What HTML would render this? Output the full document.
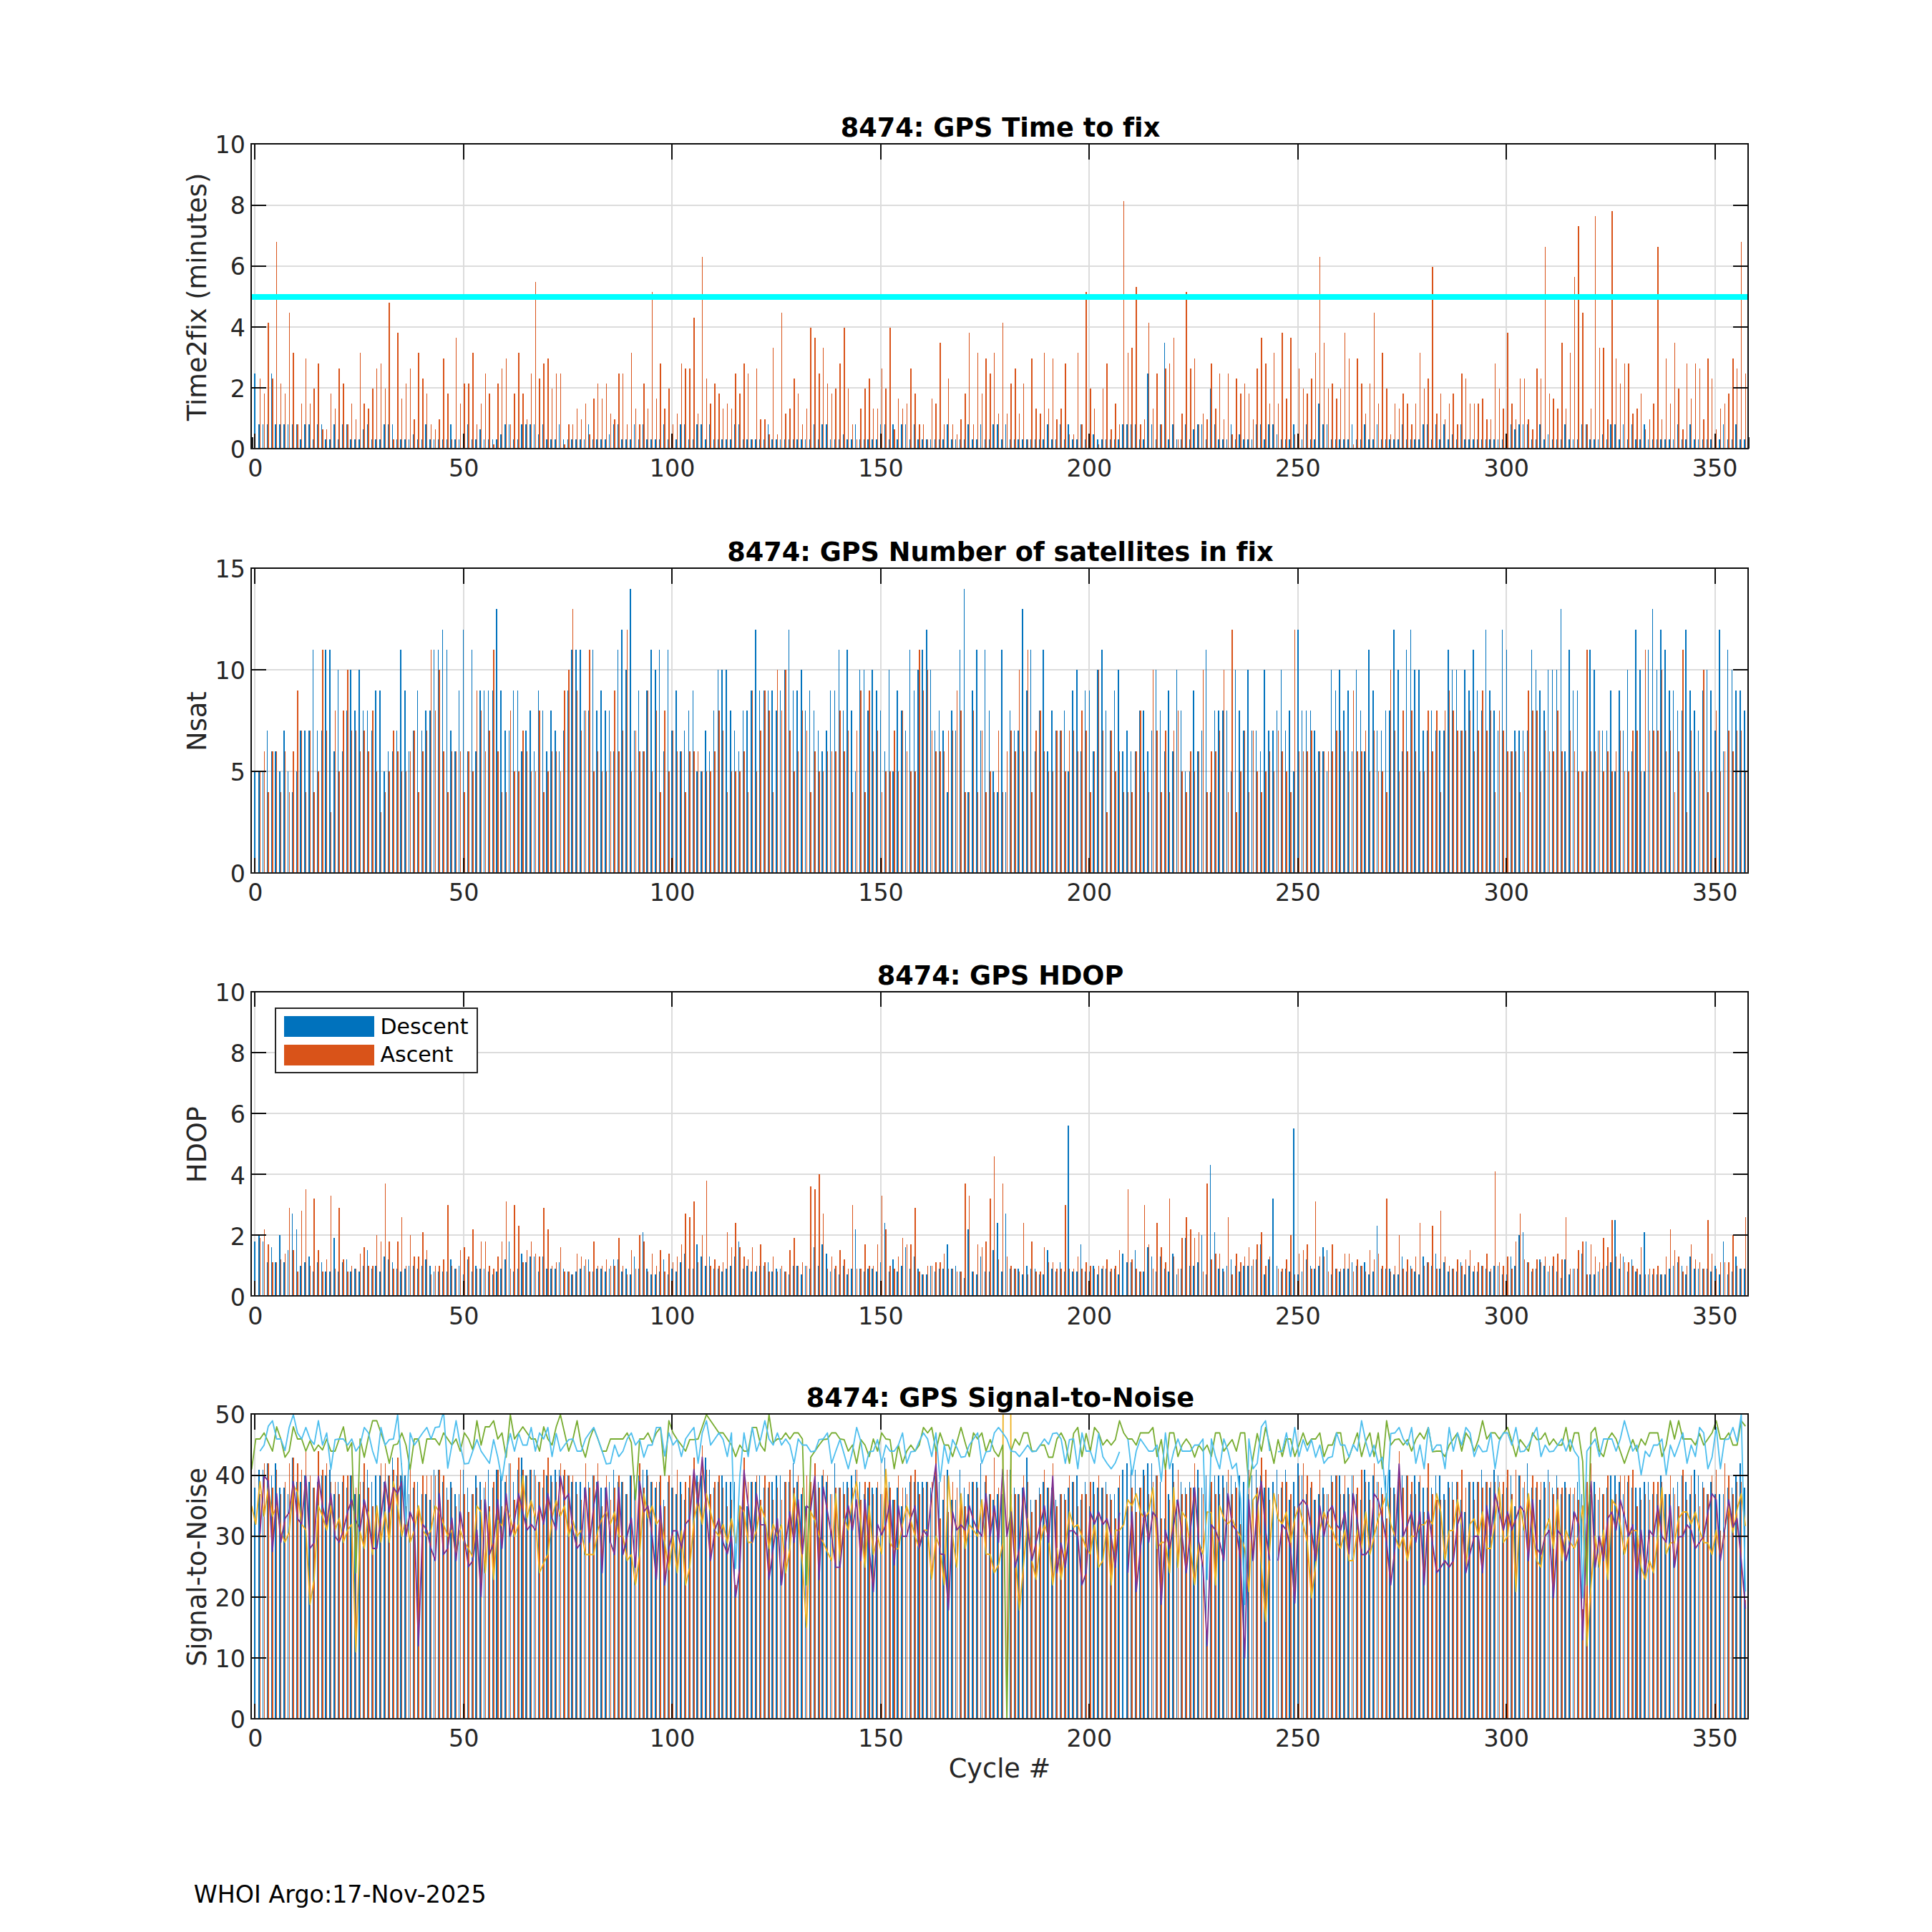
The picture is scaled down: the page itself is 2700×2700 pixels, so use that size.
<!DOCTYPE html><html><head><meta charset="utf-8"><title>8474 GPS</title><style>html,body{margin:0;padding:0;background:#fff}svg{display:block}text{font-variant-ligatures:none;font-feature-settings:"liga" 0,"clig" 0;font-family:"DejaVu Sans","Liberation Sans",sans-serif;fill:#262626}</style></head><body><svg xmlns="http://www.w3.org/2000/svg" width="2700" height="2700" viewBox="0 0 2700 2700"><rect width="2700" height="2700" fill="#fff"/><defs><clipPath id="c0"><rect x="351" y="201" width="2092" height="426"/></clipPath><clipPath id="c1"><rect x="351" y="794" width="2092" height="426"/></clipPath><clipPath id="c2"><rect x="351" y="1386" width="2092" height="425"/></clipPath><clipPath id="c3"><rect x="351" y="1976" width="2092" height="426"/></clipPath></defs><g><path shape-rendering="crispEdges" stroke="#dcdcdc" stroke-width="2" fill="none" d="M356 201V627M647.57 201V627M939.14 201V627M1230.71 201V627M1522.29 201V627M1813.86 201V627M2105.43 201V627M2397 201V627M351 542H2443M351 457H2443M351 372H2443M351 287H2443"/><g clip-path="url(#c0)"><path shape-rendering="crispEdges" fill="#0072BD" d="M355.27 627V521.75H356.73V627ZM361.1 627V592.58H362.56V627ZM366.93 627V592.58H368.39V627ZM372.77 627V592.58H374.22V627ZM378.6 627V521.75H380.05V627ZM384.43 627V592.58H385.89V627ZM390.26 627V592.58H391.72V627ZM396.09 627V592.58H397.55V627ZM401.92 627V592.58H403.38V627ZM407.75 627V592.58H409.21V627ZM413.59 627V592.58H415.04V627ZM419.42 627V613.83H420.87V627ZM425.25 627V592.58H426.71V627ZM431.08 627V592.58H432.54V627ZM436.91 627V613.83H438.37V627ZM442.74 627V592.58H444.2V627ZM448.57 627V592.58H450.03V627ZM454.41 627V613.83H455.86V627ZM460.24 627V613.83H461.69V627ZM466.07 627V592.58H467.53V627ZM471.9 627V613.83H473.36V627ZM477.73 627V592.58H479.19V627ZM483.56 627V592.58H485.02V627ZM489.39 627V613.83H490.85V627ZM495.23 627V613.83H496.68V627ZM501.06 627V613.83H502.51V627ZM506.89 627V599.67H508.35V627ZM512.72 627V592.58H514.18V627ZM518.55 627V613.83H520.01V627ZM524.38 627V613.83H525.84V627ZM530.21 627V613.83H531.67V627ZM536.05 627V592.58H537.5V627ZM541.88 627V592.58H543.33V627ZM547.71 627V592.58H549.17V627ZM553.54 627V613.83H555V627ZM559.37 627V613.83H560.83V627ZM565.2 627V613.83H566.66V627ZM571.03 627V613.83H572.49V627ZM576.87 627V606.75H578.32V627ZM582.7 627V613.83H584.15V627ZM588.53 627V613.83H589.99V627ZM594.36 627V592.58H595.82V627ZM600.19 627V613.83H601.65V627ZM606.02 627V613.83H607.48V627ZM611.85 627V613.83H613.31V627ZM617.69 627V613.83H619.14V627ZM623.52 627V613.83H624.97V627ZM629.35 627V592.58H630.81V627ZM635.18 627V613.83H636.64V627ZM641.01 627V613.83H642.47V627ZM646.84 627V613.83H648.3V627ZM652.67 627V592.58H654.13V627ZM658.51 627V613.83H659.96V627ZM664.34 627V613.83H665.79V627ZM670.17 627V599.67H671.63V627ZM676 627V613.83H677.46V627ZM681.83 627V613.83H683.29V627ZM687.66 627V613.83H689.12V627ZM693.49 627V613.83H694.95V627ZM699.33 627V606.75H700.78V627ZM705.16 627V592.58H706.61V627ZM710.99 627V592.58H712.45V627ZM716.82 627V613.83H718.28V627ZM722.65 627V613.83H724.11V627ZM728.48 627V592.58H729.94V627ZM734.31 627V592.58H735.77V627ZM740.15 627V592.58H741.6V627ZM745.98 627V592.58H747.43V627ZM751.81 627V606.75H753.27V627ZM757.64 627V592.58H759.1V627ZM763.47 627V613.83H764.93V627ZM769.3 627V613.83H770.76V627ZM775.13 627V613.83H776.59V627ZM780.97 627V592.58H782.42V627ZM786.8 627V613.83H788.25V627ZM792.63 627V613.83H794.09V627ZM798.46 627V613.83H799.92V627ZM804.29 627V613.83H805.75V627ZM810.12 627V613.83H811.58V627ZM815.95 627V613.83H817.41V627ZM821.79 627V592.58H823.24V627ZM827.62 627V613.83H829.07V627ZM833.45 627V613.83H834.91V627ZM839.28 627V613.83H840.74V627ZM845.11 627V613.83H846.57V627ZM850.94 627V606.75H852.4V627ZM856.77 627V592.58H858.23V627ZM862.61 627V592.58H864.06V627ZM868.44 627V613.83H869.89V627ZM874.27 627V613.83H875.73V627ZM880.1 627V613.83H881.56V627ZM885.93 627V592.58H887.39V627ZM891.76 627V613.83H893.22V627ZM897.59 627V592.58H899.05V627ZM903.43 627V613.83H904.88V627ZM909.26 627V613.83H910.71V627ZM915.09 627V613.83H916.55V627ZM920.92 627V613.83H922.38V627ZM926.75 627V592.58H928.21V627ZM932.58 627V613.83H934.04V627ZM938.41 627V613.83H939.87V627ZM944.25 627V613.83H945.7V627ZM950.08 627V592.58H951.53V627ZM955.91 627V592.58H957.37V627ZM961.74 627V613.83H963.2V627ZM967.57 627V613.83H969.03V627ZM973.4 627V592.58H974.86V627ZM979.23 627V592.58H980.69V627ZM985.07 627V613.83H986.52V627ZM990.9 627V592.58H992.35V627ZM996.73 627V613.83H998.19V627ZM1002.56 627V613.83H1004.02V627ZM1008.39 627V613.83H1009.85V627ZM1014.22 627V613.83H1015.68V627ZM1020.05 627V613.83H1021.51V627ZM1025.89 627V592.58H1027.34V627ZM1031.72 627V592.58H1033.17V627ZM1037.55 627V613.83H1039.01V627ZM1043.38 627V613.83H1044.84V627ZM1049.21 627V613.83H1050.67V627ZM1055.04 627V613.83H1056.5V627ZM1060.87 627V613.83H1062.33V627ZM1066.71 627V613.83H1068.16V627ZM1072.54 627V592.58H1073.99V627ZM1078.37 627V613.83H1079.83V627ZM1084.2 627V613.83H1085.66V627ZM1090.03 627V613.83H1091.49V627ZM1095.86 627V613.83H1097.32V627ZM1101.69 627V613.83H1103.15V627ZM1107.53 627V613.83H1108.98V627ZM1113.36 627V613.83H1114.81V627ZM1119.19 627V613.83H1120.65V627ZM1125.02 627V613.83H1126.48V627ZM1130.85 627V613.83H1132.31V627ZM1136.68 627V592.58H1138.14V627ZM1142.51 627V613.83H1143.97V627ZM1148.35 627V592.58H1149.8V627ZM1154.18 627V592.58H1155.63V627ZM1160.01 627V613.83H1161.47V627ZM1165.84 627V613.83H1167.3V627ZM1171.67 627V613.83H1173.13V627ZM1177.5 627V606.75H1178.96V627ZM1183.33 627V613.83H1184.79V627ZM1189.17 627V613.83H1190.62V627ZM1195 627V592.58H1196.45V627ZM1200.83 627V613.83H1202.29V627ZM1206.66 627V613.83H1208.12V627ZM1212.49 627V613.83H1213.95V627ZM1218.32 627V613.83H1219.78V627ZM1224.15 627V613.83H1225.61V627ZM1229.99 627V592.58H1231.44V627ZM1235.82 627V592.58H1237.27V627ZM1241.65 627V613.83H1243.11V627ZM1247.48 627V592.58H1248.94V627ZM1253.31 627V613.83H1254.77V627ZM1259.14 627V592.58H1260.6V627ZM1264.97 627V592.58H1266.43V627ZM1270.81 627V613.83H1272.26V627ZM1276.64 627V592.58H1278.09V627ZM1282.47 627V613.83H1283.93V627ZM1288.3 627V613.83H1289.76V627ZM1294.13 627V613.83H1295.59V627ZM1299.96 627V613.83H1301.42V627ZM1305.79 627V613.83H1307.25V627ZM1311.63 627V613.83H1313.08V627ZM1317.46 627V613.83H1318.91V627ZM1323.29 627V592.58H1324.75V627ZM1329.12 627V613.83H1330.58V627ZM1334.95 627V613.83H1336.41V627ZM1340.78 627V613.83H1342.24V627ZM1346.61 627V613.83H1348.07V627ZM1352.45 627V592.58H1353.9V627ZM1358.28 627V613.83H1359.73V627ZM1364.11 627V613.83H1365.57V627ZM1369.94 627V592.58H1371.4V627ZM1375.77 627V613.83H1377.23V627ZM1381.6 627V613.83H1383.06V627ZM1387.43 627V592.58H1388.89V627ZM1393.27 627V592.58H1394.72V627ZM1399.1 627V613.83H1400.55V627ZM1404.93 627V592.58H1406.39V627ZM1410.76 627V613.83H1412.22V627ZM1416.59 627V613.83H1418.05V627ZM1422.42 627V613.83H1423.88V627ZM1428.25 627V613.83H1429.71V627ZM1434.09 627V613.83H1435.54V627ZM1439.92 627V613.83H1441.37V627ZM1445.75 627V613.83H1447.21V627ZM1451.58 627V613.83H1453.04V627ZM1457.41 627V613.83H1458.87V627ZM1463.24 627V592.58H1464.7V627ZM1469.07 627V613.83H1470.53V627ZM1474.91 627V613.83H1476.36V627ZM1480.74 627V592.58H1482.19V627ZM1486.57 627V613.83H1488.03V627ZM1492.4 627V592.58H1493.86V627ZM1498.23 627V613.83H1499.69V627ZM1504.06 627V613.83H1505.52V627ZM1509.89 627V592.58H1511.35V627ZM1515.73 627V613.83H1517.18V627ZM1521.56 627V613.83H1523.01V627ZM1527.39 627V606.75H1528.85V627ZM1533.22 627V613.83H1534.68V627ZM1539.05 627V613.83H1540.51V627ZM1544.88 627V613.83H1546.34V627ZM1550.71 627V613.83H1552.17V627ZM1556.55 627V613.83H1558V627ZM1562.38 627V613.83H1563.83V627ZM1568.21 627V592.58H1569.67V627ZM1574.04 627V592.58H1575.5V627ZM1579.87 627V592.58H1581.33V627ZM1585.7 627V592.58H1587.16V627ZM1591.53 627V613.83H1592.99V627ZM1597.37 627V613.83H1598.82V627ZM1603.2 627V521.75H1604.65V627ZM1609.03 627V592.58H1610.49V627ZM1614.86 627V613.83H1616.32V627ZM1620.69 627V592.58H1622.15V627ZM1626.52 627V479.25H1627.98V627ZM1632.35 627V613.83H1633.81V627ZM1638.19 627V592.58H1639.64V627ZM1644.02 627V613.83H1645.47V627ZM1649.85 627V613.83H1651.31V627ZM1655.68 627V592.58H1657.14V627ZM1661.51 627V613.83H1662.97V627ZM1667.34 627V599.67H1668.8V627ZM1673.17 627V592.58H1674.63V627ZM1679.01 627V592.58H1680.46V627ZM1684.84 627V613.83H1686.29V627ZM1690.67 627V543H1692.13V627ZM1696.5 627V592.58H1697.96V627ZM1702.33 627V613.83H1703.79V627ZM1708.16 627V613.83H1709.62V627ZM1713.99 627V613.83H1715.45V627ZM1719.83 627V592.58H1721.28V627ZM1725.66 627V613.83H1727.11V627ZM1731.49 627V606.75H1732.95V627ZM1737.32 627V613.83H1738.78V627ZM1743.15 627V613.83H1744.61V627ZM1748.98 627V613.83H1750.44V627ZM1754.81 627V592.58H1756.27V627ZM1760.65 627V592.58H1762.1V627ZM1766.48 627V613.83H1767.93V627ZM1772.31 627V592.58H1773.77V627ZM1778.14 627V592.58H1779.6V627ZM1783.97 627V606.75H1785.43V627ZM1789.8 627V613.83H1791.26V627ZM1795.63 627V613.83H1797.09V627ZM1801.47 627V613.83H1802.92V627ZM1807.3 627V592.58H1808.75V627ZM1813.13 627V613.83H1814.59V627ZM1818.96 627V613.83H1820.42V627ZM1824.79 627V592.58H1826.25V627ZM1830.62 627V613.83H1832.08V627ZM1836.45 627V613.83H1837.91V627ZM1842.29 627V564.25H1843.74V627ZM1848.12 627V592.58H1849.57V627ZM1853.95 627V592.58H1855.41V627ZM1859.78 627V613.83H1861.24V627ZM1865.61 627V613.83H1867.07V627ZM1871.44 627V613.83H1872.9V627ZM1877.27 627V613.83H1878.73V627ZM1883.11 627V613.83H1884.56V627ZM1888.94 627V592.58H1890.39V627ZM1894.77 627V613.83H1896.23V627ZM1900.6 627V613.83H1902.06V627ZM1906.43 627V592.58H1907.89V627ZM1912.26 627V613.83H1913.72V627ZM1918.09 627V613.83H1919.55V627ZM1923.93 627V592.58H1925.38V627ZM1929.76 627V613.83H1931.21V627ZM1935.59 627V613.83H1937.05V627ZM1941.42 627V613.83H1942.88V627ZM1947.25 627V613.83H1948.71V627ZM1953.08 627V613.83H1954.54V627ZM1958.91 627V592.58H1960.37V627ZM1964.75 627V613.83H1966.2V627ZM1970.58 627V613.83H1972.03V627ZM1976.41 627V613.83H1977.87V627ZM1982.24 627V613.83H1983.7V627ZM1988.07 627V592.58H1989.53V627ZM1993.9 627V592.58H1995.36V627ZM1999.73 627V613.83H2001.19V627ZM2005.57 627V592.58H2007.02V627ZM2011.4 627V613.83H2012.85V627ZM2017.23 627V592.58H2018.69V627ZM2023.06 627V613.83H2024.52V627ZM2028.89 627V606.75H2030.35V627ZM2034.72 627V613.83H2036.18V627ZM2040.55 627V592.58H2042.01V627ZM2046.39 627V613.83H2047.84V627ZM2052.22 627V613.83H2053.67V627ZM2058.05 627V613.83H2059.51V627ZM2063.88 627V613.83H2065.34V627ZM2069.71 627V613.83H2071.17V627ZM2075.54 627V613.83H2077V627ZM2081.37 627V613.83H2082.83V627ZM2087.21 627V613.83H2088.66V627ZM2093.04 627V613.83H2094.49V627ZM2098.87 627V613.83H2100.33V627ZM2104.7 627V613.83H2106.16V627ZM2110.53 627V592.58H2111.99V627ZM2116.36 627V599.67H2117.82V627ZM2122.19 627V592.58H2123.65V627ZM2128.03 627V592.58H2129.48V627ZM2133.86 627V592.58H2135.31V627ZM2139.69 627V613.83H2141.15V627ZM2145.52 627V613.83H2146.98V627ZM2151.35 627V592.58H2152.81V627ZM2157.18 627V613.83H2158.64V627ZM2163.01 627V606.75H2164.47V627ZM2168.85 627V613.83H2170.3V627ZM2174.68 627V613.83H2176.13V627ZM2180.51 627V613.83H2181.97V627ZM2186.34 627V592.58H2187.8V627ZM2192.17 627V613.83H2193.63V627ZM2198 627V613.83H2199.46V627ZM2203.83 627V613.83H2205.29V627ZM2209.67 627V592.58H2211.12V627ZM2215.5 627V592.58H2216.95V627ZM2221.33 627V613.83H2222.79V627ZM2227.16 627V613.83H2228.62V627ZM2232.99 627V613.83H2234.45V627ZM2238.82 627V606.75H2240.28V627ZM2244.65 627V613.83H2246.11V627ZM2250.49 627V592.58H2251.94V627ZM2256.32 627V592.58H2257.77V627ZM2262.15 627V613.83H2263.61V627ZM2267.98 627V592.58H2269.44V627ZM2273.81 627V613.83H2275.27V627ZM2279.64 627V592.58H2281.1V627ZM2285.47 627V613.83H2286.93V627ZM2291.31 627V613.83H2292.76V627ZM2297.14 627V592.58H2298.59V627ZM2302.97 627V613.83H2304.43V627ZM2308.8 627V613.83H2310.26V627ZM2314.63 627V613.83H2316.09V627ZM2320.46 627V613.83H2321.92V627ZM2326.29 627V613.83H2327.75V627ZM2332.13 627V613.83H2333.58V627ZM2337.96 627V613.83H2339.41V627ZM2343.79 627V592.58H2345.25V627ZM2349.62 627V613.83H2351.08V627ZM2355.45 627V613.83H2356.91V627ZM2361.28 627V592.58H2362.74V627ZM2367.11 627V613.83H2368.57V627ZM2372.95 627V613.83H2374.4V627ZM2378.78 627V613.83H2380.23V627ZM2384.61 627V613.83H2386.07V627ZM2390.44 627V613.83H2391.9V627ZM2396.27 627V613.83H2397.73V627ZM2402.1 627V613.83H2403.56V627ZM2407.93 627V592.58H2409.39V627ZM2413.77 627V613.83H2415.22V627ZM2419.6 627V613.83H2421.05V627ZM2425.43 627V592.58H2426.89V627ZM2431.26 627V613.83H2432.72V627ZM2437.09 627V613.83H2438.55V627Z"/><path shape-rendering="crispEdges" fill="#D95319" d="M362.68 627V528.83H364.13V627ZM368.51 627V550.08H369.97V627ZM374.34 627V450.92H375.8V627ZM380.17 627V528.83H381.63V627ZM386 627V337.58H387.46V627ZM391.83 627V535.92H393.29V627ZM397.67 627V550.08H399.12V627ZM403.5 627V436.75H404.95V627ZM409.33 627V493.42H410.79V627ZM415.16 627V592.58H416.62V627ZM420.99 627V564.25H422.45V627ZM426.82 627V500.5H428.28V627ZM432.65 627V564.25H434.11V627ZM438.49 627V543H439.94V627ZM444.32 627V507.58H445.77V627ZM450.15 627V599.67H451.61V627ZM455.98 627V599.67H457.44V627ZM461.81 627V550.08H463.27V627ZM467.64 627V571.33H469.1V627ZM473.47 627V514.67H474.93V627ZM479.31 627V535.92H480.76V627ZM485.14 627V592.58H486.59V627ZM490.97 627V564.25H492.43V627ZM496.8 627V585.5H498.26V627ZM502.63 627V493.42H504.09V627ZM508.46 627V564.25H509.92V627ZM514.29 627V571.33H515.75V627ZM520.13 627V543H521.58V627ZM525.96 627V514.67H527.41V627ZM531.79 627V507.58H533.25V627ZM537.62 627V543H539.08V627ZM543.45 627V422.58H544.91V627ZM549.28 627V613.83H550.74V627ZM555.11 627V465.08H556.57V627ZM560.95 627V557.17H562.4V627ZM566.78 627V535.92H568.23V627ZM572.61 627V514.67H574.07V627ZM578.44 627V585.5H579.9V627ZM584.27 627V493.42H585.73V627ZM590.1 627V528.83H591.56V627ZM595.93 627V550.08H597.39V627ZM601.77 627V592.58H603.22V627ZM607.6 627V599.67H609.05V627ZM613.43 627V585.5H614.89V627ZM619.26 627V500.5H620.72V627ZM625.09 627V550.08H626.55V627ZM630.92 627V613.83H632.38V627ZM636.75 627V472.17H638.21V627ZM642.59 627V564.25H644.04V627ZM648.42 627V535.92H649.87V627ZM654.25 627V535.92H655.71V627ZM660.08 627V493.42H661.54V627ZM665.91 627V592.58H667.37V627ZM671.74 627V564.25H673.2V627ZM677.57 627V521.75H679.03V627ZM683.41 627V550.08H684.86V627ZM689.24 627V620.92H690.69V627ZM695.07 627V535.92H696.53V627ZM700.9 627V514.67H702.36V627ZM706.73 627V500.5H708.19V627ZM712.56 627V592.58H714.02V627ZM718.39 627V550.08H719.85V627ZM724.23 627V493.42H725.68V627ZM730.06 627V550.08H731.51V627ZM735.89 627V585.5H737.35V627ZM741.72 627V521.75H743.18V627ZM747.55 627V394.25H749.01V627ZM753.38 627V528.83H754.84V627ZM759.21 627V507.58H760.67V627ZM765.05 627V500.5H766.5V627ZM770.88 627V543H772.33V627ZM776.71 627V521.75H778.17V627ZM782.54 627V521.75H784V627ZM788.37 627V620.92H789.83V627ZM794.2 627V592.58H795.66V627ZM800.03 627V592.58H801.49V627ZM805.87 627V571.33H807.32V627ZM811.7 627V585.5H813.15V627ZM817.53 627V564.25H818.99V627ZM823.36 627V606.75H824.82V627ZM829.19 627V557.17H830.65V627ZM835.02 627V535.92H836.48V627ZM840.85 627V557.17H842.31V627ZM846.69 627V535.92H848.14V627ZM852.52 627V578.42H853.97V627ZM858.35 627V585.5H859.81V627ZM864.18 627V521.75H865.64V627ZM870.01 627V521.75H871.47V627ZM875.84 627V592.58H877.3V627ZM881.67 627V493.42H883.13V627ZM887.51 627V571.33H888.96V627ZM893.34 627V592.58H894.79V627ZM899.17 627V535.92H900.63V627ZM905 627V571.33H906.46V627ZM910.83 627V408.42H912.29V627ZM916.66 627V557.17H918.12V627ZM922.49 627V507.58H923.95V627ZM928.33 627V571.33H929.78V627ZM934.16 627V543H935.61V627ZM939.99 627V592.58H941.45V627ZM945.82 627V578.42H947.28V627ZM951.65 627V507.58H953.11V627ZM957.48 627V514.67H958.94V627ZM963.31 627V514.67H964.77V627ZM969.15 627V443.83H970.6V627ZM974.98 627V578.42H976.43V627ZM980.81 627V358.83H982.27V627ZM986.64 627V528.83H988.1V627ZM992.47 627V564.25H993.93V627ZM998.3 627V535.92H999.76V627ZM1004.13 627V550.08H1005.59V627ZM1009.97 627V571.33H1011.42V627ZM1015.8 627V564.25H1017.25V627ZM1021.63 627V571.33H1023.09V627ZM1027.46 627V521.75H1028.92V627ZM1033.29 627V550.08H1034.75V627ZM1039.12 627V507.58H1040.58V627ZM1044.95 627V521.75H1046.41V627ZM1050.79 627V613.83H1052.24V627ZM1056.62 627V514.67H1058.07V627ZM1062.45 627V585.5H1063.91V627ZM1068.28 627V585.5H1069.74V627ZM1074.11 627V606.75H1075.57V627ZM1079.94 627V486.33H1081.4V627ZM1085.77 627V606.75H1087.23V627ZM1091.61 627V436.75H1093.06V627ZM1097.44 627V578.42H1098.89V627ZM1103.27 627V571.33H1104.73V627ZM1109.1 627V528.83H1110.56V627ZM1114.93 627V550.08H1116.39V627ZM1120.76 627V592.58H1122.22V627ZM1126.59 627V571.33H1128.05V627ZM1132.43 627V458H1133.88V627ZM1138.26 627V472.17H1139.71V627ZM1144.09 627V521.75H1145.55V627ZM1149.92 627V486.33H1151.38V627ZM1155.75 627V535.92H1157.21V627ZM1161.58 627V550.08H1163.04V627ZM1167.41 627V543H1168.87V627ZM1173.25 627V507.58H1174.7V627ZM1179.08 627V458H1180.53V627ZM1184.91 627V543H1186.37V627ZM1190.74 627V592.58H1192.2V627ZM1196.57 627V613.83H1198.03V627ZM1202.4 627V571.33H1203.86V627ZM1208.23 627V543H1209.69V627ZM1214.07 627V528.83H1215.52V627ZM1219.9 627V571.33H1221.35V627ZM1225.73 627V571.33H1227.19V627ZM1231.56 627V514.67H1233.02V627ZM1237.39 627V543H1238.85V627ZM1243.22 627V458H1244.68V627ZM1249.05 627V599.67H1250.51V627ZM1254.89 627V557.17H1256.34V627ZM1260.72 627V571.33H1262.17V627ZM1266.55 627V564.25H1268.01V627ZM1272.38 627V514.67H1273.84V627ZM1278.21 627V550.08H1279.67V627ZM1284.04 627V592.58H1285.5V627ZM1289.87 627V592.58H1291.33V627ZM1295.71 627V613.83H1297.16V627ZM1301.54 627V557.17H1302.99V627ZM1307.37 627V564.25H1308.83V627ZM1313.2 627V479.25H1314.66V627ZM1319.03 627V592.58H1320.49V627ZM1324.86 627V528.83H1326.32V627ZM1330.69 627V592.58H1332.15V627ZM1336.53 627V606.75H1337.98V627ZM1342.36 627V585.5H1343.81V627ZM1348.19 627V550.08H1349.65V627ZM1354.02 627V465.08H1355.48V627ZM1359.85 627V592.58H1361.31V627ZM1365.68 627V493.42H1367.14V627ZM1371.51 627V550.08H1372.97V627ZM1377.35 627V500.5H1378.8V627ZM1383.18 627V521.75H1384.63V627ZM1389.01 627V493.42H1390.47V627ZM1394.84 627V578.42H1396.3V627ZM1400.67 627V450.92H1402.13V627ZM1406.5 627V578.42H1407.96V627ZM1412.33 627V535.92H1413.79V627ZM1418.17 627V514.67H1419.62V627ZM1424 627V578.42H1425.45V627ZM1429.83 627V535.92H1431.29V627ZM1435.66 627V613.83H1437.12V627ZM1441.49 627V500.5H1442.95V627ZM1447.32 627V571.33H1448.78V627ZM1453.15 627V578.42H1454.61V627ZM1458.99 627V493.42H1460.44V627ZM1464.82 627V571.33H1466.27V627ZM1470.65 627V500.5H1472.11V627ZM1476.48 627V585.5H1477.94V627ZM1482.31 627V571.33H1483.77V627ZM1488.14 627V507.58H1489.6V627ZM1493.97 627V606.75H1495.43V627ZM1499.81 627V606.75H1501.26V627ZM1505.64 627V493.42H1507.09V627ZM1511.47 627V592.58H1512.93V627ZM1517.3 627V408.42H1518.76V627ZM1523.13 627V543H1524.59V627ZM1528.96 627V571.33H1530.42V627ZM1534.79 627V620.92H1536.25V627ZM1540.63 627V543H1542.08V627ZM1546.46 627V507.58H1547.91V627ZM1552.29 627V599.67H1553.75V627ZM1558.12 627V564.25H1559.58V627ZM1563.95 627V592.58H1565.41V627ZM1569.78 627V280.92H1571.24V627ZM1575.61 627V493.42H1577.07V627ZM1581.45 627V486.33H1582.9V627ZM1587.28 627V401.33H1588.73V627ZM1593.11 627V592.58H1594.57V627ZM1598.94 627V585.5H1600.4V627ZM1604.77 627V450.92H1606.23V627ZM1610.6 627V571.33H1612.06V627ZM1616.43 627V521.75H1617.89V627ZM1622.27 627V592.58H1623.72V627ZM1628.1 627V514.67H1629.55V627ZM1633.93 627V507.58H1635.39V627ZM1639.76 627V472.17H1641.22V627ZM1645.59 627V613.83H1647.05V627ZM1651.42 627V578.42H1652.88V627ZM1657.25 627V408.42H1658.71V627ZM1663.09 627V514.67H1664.54V627ZM1668.92 627V500.5H1670.37V627ZM1674.75 627V592.58H1676.21V627ZM1680.58 627V578.42H1682.04V627ZM1686.41 627V585.5H1687.87V627ZM1692.24 627V507.58H1693.7V627ZM1698.07 627V571.33H1699.53V627ZM1703.91 627V521.75H1705.36V627ZM1709.74 627V585.5H1711.19V627ZM1715.57 627V521.75H1717.03V627ZM1721.4 627V606.75H1722.86V627ZM1727.23 627V528.83H1728.69V627ZM1733.06 627V550.08H1734.52V627ZM1738.89 627V535.92H1740.35V627ZM1744.73 627V550.08H1746.18V627ZM1750.56 627V585.5H1752.01V627ZM1756.39 627V514.67H1757.85V627ZM1762.22 627V472.17H1763.68V627ZM1768.05 627V507.58H1769.51V627ZM1773.88 627V564.25H1775.34V627ZM1779.71 627V493.42H1781.17V627ZM1785.55 627V564.25H1787V627ZM1791.38 627V465.08H1792.83V627ZM1797.21 627V557.17H1798.67V627ZM1803.04 627V472.17H1804.5V627ZM1808.87 627V606.75H1810.33V627ZM1814.7 627V514.67H1816.16V627ZM1820.53 627V543H1821.99V627ZM1826.37 627V550.08H1827.82V627ZM1832.2 627V528.83H1833.65V627ZM1838.03 627V493.42H1839.49V627ZM1843.86 627V358.83H1845.32V627ZM1849.69 627V479.25H1851.15V627ZM1855.52 627V543H1856.98V627ZM1861.35 627V535.92H1862.81V627ZM1867.19 627V557.17H1868.64V627ZM1873.02 627V543H1874.47V627ZM1878.85 627V465.08H1880.31V627ZM1884.68 627V500.5H1886.14V627ZM1890.51 627V620.92H1891.97V627ZM1896.34 627V500.5H1897.8V627ZM1902.17 627V535.92H1903.63V627ZM1908.01 627V578.42H1909.46V627ZM1913.84 627V535.92H1915.29V627ZM1919.67 627V436.75H1921.13V627ZM1925.5 627V564.25H1926.96V627ZM1931.33 627V493.42H1932.79V627ZM1937.16 627V543H1938.62V627ZM1942.99 627V606.75H1944.45V627ZM1948.83 627V564.25H1950.28V627ZM1954.66 627V571.33H1956.11V627ZM1960.49 627V550.08H1961.95V627ZM1966.32 627V564.25H1967.78V627ZM1972.15 627V592.58H1973.61V627ZM1977.98 627V564.25H1979.44V627ZM1983.81 627V493.42H1985.27V627ZM1989.65 627V543H1991.1V627ZM1995.48 627V528.83H1996.93V627ZM2001.31 627V373H2002.77V627ZM2007.14 627V578.42H2008.6V627ZM2012.97 627V550.08H2014.43V627ZM2018.8 627V585.5H2020.26V627ZM2024.63 627V564.25H2026.09V627ZM2030.47 627V550.08H2031.92V627ZM2036.3 627V592.58H2037.75V627ZM2042.13 627V521.75H2043.59V627ZM2047.96 627V528.83H2049.42V627ZM2053.79 627V564.25H2055.25V627ZM2059.62 627V564.25H2061.08V627ZM2065.45 627V564.25H2066.91V627ZM2071.29 627V557.17H2072.74V627ZM2077.12 627V585.5H2078.57V627ZM2082.95 627V585.5H2084.41V627ZM2088.78 627V507.58H2090.24V627ZM2094.61 627V543H2096.07V627ZM2100.44 627V571.33H2101.9V627ZM2106.27 627V465.08H2107.73V627ZM2112.11 627V564.25H2113.56V627ZM2117.94 627V585.5H2119.39V627ZM2123.77 627V528.83H2125.23V627ZM2129.6 627V528.83H2131.06V627ZM2135.43 627V585.5H2136.89V627ZM2141.26 627V599.67H2142.72V627ZM2147.09 627V514.67H2148.55V627ZM2152.93 627V528.83H2154.38V627ZM2158.76 627V344.67H2160.21V627ZM2164.59 627V550.08H2166.05V627ZM2170.42 627V557.17H2171.88V627ZM2176.25 627V571.33H2177.71V627ZM2182.08 627V479.25H2183.54V627ZM2187.91 627V571.33H2189.37V627ZM2193.75 627V493.42H2195.2V627ZM2199.58 627V387.17H2201.03V627ZM2205.41 627V316.33H2206.87V627ZM2211.24 627V436.75H2212.7V627ZM2217.07 627V592.58H2218.53V627ZM2222.9 627V571.33H2224.36V627ZM2228.73 627V302.17H2230.19V627ZM2234.57 627V486.33H2236.02V627ZM2240.4 627V486.33H2241.85V627ZM2246.23 627V585.5H2247.69V627ZM2252.06 627V295.08H2253.52V627ZM2257.89 627V500.5H2259.35V627ZM2263.72 627V535.92H2265.18V627ZM2269.55 627V507.58H2271.01V627ZM2275.39 627V507.58H2276.84V627ZM2281.22 627V578.42H2282.67V627ZM2287.05 627V571.33H2288.51V627ZM2292.88 627V550.08H2294.34V627ZM2298.71 627V599.67H2300.17V627ZM2304.54 627V585.5H2306V627ZM2310.37 627V564.25H2311.83V627ZM2316.21 627V344.67H2317.66V627ZM2322.04 627V585.5H2323.49V627ZM2327.87 627V500.5H2329.33V627ZM2333.7 627V564.25H2335.16V627ZM2339.53 627V479.25H2340.99V627ZM2345.36 627V543H2346.82V627ZM2351.19 627V599.67H2352.65V627ZM2357.03 627V507.58H2358.48V627ZM2362.86 627V557.17H2364.31V627ZM2368.69 627V507.58H2370.15V627ZM2374.52 627V514.67H2375.98V627ZM2380.35 627V585.5H2381.81V627ZM2386.18 627V500.5H2387.64V627ZM2392.01 627V528.83H2393.47V627ZM2397.85 627V599.67H2399.3V627ZM2403.68 627V571.33H2405.13V627ZM2409.51 627V564.25H2410.97V627ZM2415.34 627V550.08H2416.8V627ZM2421.17 627V500.5H2422.63V627ZM2427 627V514.67H2428.46V627ZM2432.83 627V337.58H2434.29V627ZM2438.67 627V521.75H2440.12V627Z"/></g><rect x="352" y="411" width="2090" height="8" fill="#00FFFF"/><path shape-rendering="crispEdges" stroke="#0d0d0d" stroke-width="2" fill="none" d="M356 627v-21M356 201V223M647.57 627v-21M647.57 201V223M939.14 627v-21M939.14 201V223M1230.71 627v-21M1230.71 201V223M1522.29 627v-21M1522.29 201V223M1813.86 627v-21M1813.86 201V223M2105.43 627v-21M2105.43 201V223M2397 627v-21M2397 201V223M351 542h21M2443 542h-21M351 457h21M2443 457h-21M351 372h21M2443 372h-21M351 287h21M2443 287h-21"/><rect shape-rendering="crispEdges" x="351" y="201" width="2092" height="426" fill="none" stroke="#0d0d0d" stroke-width="2"/><rect shape-rendering="crispEdges" x="350" y="625.7" width="2094" height="2.6" fill="#1c1c1c"/><rect shape-rendering="crispEdges" x="352" y="611" width="2" height="16" fill="#1c1c1c"/><rect shape-rendering="crispEdges" x="2443" y="611" width="2" height="16" fill="#1c1c1c"/><text x="356.75" y="666.3" font-size="33.33" text-anchor="middle">0</text><text x="648.16" y="666.3" font-size="33.33" text-anchor="middle">50</text><text x="939.58" y="666.3" font-size="33.33" text-anchor="middle">100</text><text x="1230.99" y="666.3" font-size="33.33" text-anchor="middle">150</text><text x="1522.41" y="666.3" font-size="33.33" text-anchor="middle">200</text><text x="1813.82" y="666.3" font-size="33.33" text-anchor="middle">250</text><text x="2105.24" y="666.3" font-size="33.33" text-anchor="middle">300</text><text x="2396.65" y="666.3" font-size="33.33" text-anchor="middle">350</text><text x="343" y="639.9" font-size="33.33" text-anchor="end">0</text><text x="343" y="554.74" font-size="33.33" text-anchor="end">2</text><text x="343" y="469.58" font-size="33.33" text-anchor="end">4</text><text x="343" y="384.42" font-size="33.33" text-anchor="end">6</text><text x="343" y="299.26" font-size="33.33" text-anchor="end">8</text><text x="343" y="214.1" font-size="33.33" text-anchor="end">10</text><text x="1398" y="190.6" font-size="36.67" font-weight="bold" text-anchor="middle" fill="#000" style="fill:#000">8474: GPS Time to fix</text><text transform="translate(288.3 415) rotate(-90)" font-size="36.67" text-anchor="middle">Time2fix (minutes)</text></g><g><path shape-rendering="crispEdges" stroke="#dcdcdc" stroke-width="2" fill="none" d="M356 794V1220M647.57 794V1220M939.14 794V1220M1230.71 794V1220M1522.29 794V1220M1813.86 794V1220M2105.43 794V1220M2397 794V1220M351 1078.17H2443M351 936.33H2443"/><g clip-path="url(#c1)"><path shape-rendering="crispEdges" fill="#0072BD" d="M355.27 1220V1078.17H356.73V1220ZM361.1 1220V1078.17H362.56V1220ZM366.93 1220V1078.17H368.39V1220ZM372.77 1220V1021.43H374.22V1220ZM378.6 1220V1049.8H380.05V1220ZM384.43 1220V1049.8H385.89V1220ZM390.26 1220V1078.17H391.72V1220ZM396.09 1220V1021.43H397.55V1220ZM401.92 1220V1078.17H403.38V1220ZM407.75 1220V1106.53H409.21V1220ZM413.59 1220V1078.17H415.04V1220ZM419.42 1220V1021.43H420.87V1220ZM425.25 1220V1021.43H426.71V1220ZM431.08 1220V1021.43H432.54V1220ZM436.91 1220V907.97H438.37V1220ZM442.74 1220V1021.43H444.2V1220ZM448.57 1220V1021.43H450.03V1220ZM454.41 1220V907.97H455.86V1220ZM460.24 1220V907.97H461.69V1220ZM466.07 1220V1049.8H467.53V1220ZM471.9 1220V936.33H473.36V1220ZM477.73 1220V1049.8H479.19V1220ZM483.56 1220V993.07H485.02V1220ZM489.39 1220V936.33H490.85V1220ZM495.23 1220V993.07H496.68V1220ZM501.06 1220V936.33H502.51V1220ZM506.89 1220V993.07H508.35V1220ZM512.72 1220V993.07H514.18V1220ZM518.55 1220V1021.43H520.01V1220ZM524.38 1220V964.7H525.84V1220ZM530.21 1220V964.7H531.67V1220ZM536.05 1220V1078.17H537.5V1220ZM541.88 1220V1049.8H543.33V1220ZM547.71 1220V1049.8H549.17V1220ZM553.54 1220V1021.43H555V1220ZM559.37 1220V907.97H560.83V1220ZM565.2 1220V964.7H566.66V1220ZM571.03 1220V1049.8H572.49V1220ZM576.87 1220V1021.43H578.32V1220ZM582.7 1220V964.7H584.15V1220ZM588.53 1220V1021.43H589.99V1220ZM594.36 1220V993.07H595.82V1220ZM600.19 1220V993.07H601.65V1220ZM606.02 1220V907.97H607.48V1220ZM611.85 1220V907.97H613.31V1220ZM617.69 1220V879.6H619.14V1220ZM623.52 1220V907.97H624.97V1220ZM629.35 1220V1021.43H630.81V1220ZM635.18 1220V1049.8H636.64V1220ZM641.01 1220V964.7H642.47V1220ZM646.84 1220V879.6H648.3V1220ZM652.67 1220V1049.8H654.13V1220ZM658.51 1220V907.97H659.96V1220ZM664.34 1220V1049.8H665.79V1220ZM670.17 1220V964.7H671.63V1220ZM676 1220V964.7H677.46V1220ZM681.83 1220V964.7H683.29V1220ZM687.66 1220V964.7H689.12V1220ZM693.49 1220V851.23H694.95V1220ZM699.33 1220V964.7H700.78V1220ZM705.16 1220V1021.43H706.61V1220ZM710.99 1220V1021.43H712.45V1220ZM716.82 1220V964.7H718.28V1220ZM722.65 1220V964.7H724.11V1220ZM728.48 1220V1049.8H729.94V1220ZM734.31 1220V1021.43H735.77V1220ZM740.15 1220V993.07H741.6V1220ZM745.98 1220V1049.8H747.43V1220ZM751.81 1220V964.7H753.27V1220ZM757.64 1220V993.07H759.1V1220ZM763.47 1220V1049.8H764.93V1220ZM769.3 1220V993.07H770.76V1220ZM775.13 1220V1021.43H776.59V1220ZM780.97 1220V1049.8H782.42V1220ZM786.8 1220V1021.43H788.25V1220ZM792.63 1220V964.7H794.09V1220ZM798.46 1220V907.97H799.92V1220ZM804.29 1220V907.97H805.75V1220ZM810.12 1220V907.97H811.58V1220ZM815.95 1220V993.07H817.41V1220ZM821.79 1220V993.07H823.24V1220ZM827.62 1220V907.97H829.07V1220ZM833.45 1220V993.07H834.91V1220ZM839.28 1220V964.7H840.74V1220ZM845.11 1220V993.07H846.57V1220ZM850.94 1220V993.07H852.4V1220ZM856.77 1220V1049.8H858.23V1220ZM862.61 1220V907.97H864.06V1220ZM868.44 1220V879.6H869.89V1220ZM874.27 1220V936.33H875.73V1220ZM880.1 1220V822.87H881.56V1220ZM885.93 1220V1021.43H887.39V1220ZM891.76 1220V964.7H893.22V1220ZM897.59 1220V1049.8H899.05V1220ZM903.43 1220V964.7H904.88V1220ZM909.26 1220V907.97H910.71V1220ZM915.09 1220V936.33H916.55V1220ZM920.92 1220V907.97H922.38V1220ZM926.75 1220V1049.8H928.21V1220ZM932.58 1220V907.97H934.04V1220ZM938.41 1220V1021.43H939.87V1220ZM944.25 1220V964.7H945.7V1220ZM950.08 1220V1049.8H951.53V1220ZM955.91 1220V1021.43H957.37V1220ZM961.74 1220V993.07H963.2V1220ZM967.57 1220V964.7H969.03V1220ZM973.4 1220V1078.17H974.86V1220ZM979.23 1220V1078.17H980.69V1220ZM985.07 1220V1021.43H986.52V1220ZM990.9 1220V1049.8H992.35V1220ZM996.73 1220V993.07H998.19V1220ZM1002.56 1220V936.33H1004.02V1220ZM1008.39 1220V936.33H1009.85V1220ZM1014.22 1220V936.33H1015.68V1220ZM1020.05 1220V993.07H1021.51V1220ZM1025.89 1220V1021.43H1027.34V1220ZM1031.72 1220V1049.8H1033.17V1220ZM1037.55 1220V993.07H1039.01V1220ZM1043.38 1220V993.07H1044.84V1220ZM1049.21 1220V964.7H1050.67V1220ZM1055.04 1220V879.6H1056.5V1220ZM1060.87 1220V964.7H1062.33V1220ZM1066.71 1220V964.7H1068.16V1220ZM1072.54 1220V964.7H1073.99V1220ZM1078.37 1220V964.7H1079.83V1220ZM1084.2 1220V993.07H1085.66V1220ZM1090.03 1220V964.7H1091.49V1220ZM1095.86 1220V936.33H1097.32V1220ZM1101.69 1220V879.6H1103.15V1220ZM1107.53 1220V964.7H1108.98V1220ZM1113.36 1220V964.7H1114.81V1220ZM1119.19 1220V936.33H1120.65V1220ZM1125.02 1220V993.07H1126.48V1220ZM1130.85 1220V964.7H1132.31V1220ZM1136.68 1220V993.07H1138.14V1220ZM1142.51 1220V1021.43H1143.97V1220ZM1148.35 1220V1049.8H1149.8V1220ZM1154.18 1220V1021.43H1155.63V1220ZM1160.01 1220V964.7H1161.47V1220ZM1165.84 1220V964.7H1167.3V1220ZM1171.67 1220V907.97H1173.13V1220ZM1177.5 1220V993.07H1178.96V1220ZM1183.33 1220V907.97H1184.79V1220ZM1189.17 1220V993.07H1190.62V1220ZM1195 1220V1078.17H1196.45V1220ZM1200.83 1220V936.33H1202.29V1220ZM1206.66 1220V936.33H1208.12V1220ZM1212.49 1220V993.07H1213.95V1220ZM1218.32 1220V936.33H1219.78V1220ZM1224.15 1220V964.7H1225.61V1220ZM1229.99 1220V993.07H1231.44V1220ZM1235.82 1220V1049.8H1237.27V1220ZM1241.65 1220V936.33H1243.11V1220ZM1247.48 1220V1078.17H1248.94V1220ZM1253.31 1220V964.7H1254.77V1220ZM1259.14 1220V993.07H1260.6V1220ZM1264.97 1220V1021.43H1266.43V1220ZM1270.81 1220V907.97H1272.26V1220ZM1276.64 1220V964.7H1278.09V1220ZM1282.47 1220V936.33H1283.93V1220ZM1288.3 1220V907.97H1289.76V1220ZM1294.13 1220V879.6H1295.59V1220ZM1299.96 1220V936.33H1301.42V1220ZM1305.79 1220V1021.43H1307.25V1220ZM1311.63 1220V993.07H1313.08V1220ZM1317.46 1220V1021.43H1318.91V1220ZM1323.29 1220V1106.53H1324.75V1220ZM1329.12 1220V993.07H1330.58V1220ZM1334.95 1220V1021.43H1336.41V1220ZM1340.78 1220V907.97H1342.24V1220ZM1346.61 1220V822.87H1348.07V1220ZM1352.45 1220V1106.53H1353.9V1220ZM1358.28 1220V964.7H1359.73V1220ZM1364.11 1220V907.97H1365.57V1220ZM1369.94 1220V1021.43H1371.4V1220ZM1375.77 1220V907.97H1377.23V1220ZM1381.6 1220V993.07H1383.06V1220ZM1387.43 1220V1078.17H1388.89V1220ZM1393.27 1220V1106.53H1394.72V1220ZM1399.1 1220V907.97H1400.55V1220ZM1404.93 1220V1106.53H1406.39V1220ZM1410.76 1220V993.07H1412.22V1220ZM1416.59 1220V1021.43H1418.05V1220ZM1422.42 1220V1021.43H1423.88V1220ZM1428.25 1220V851.23H1429.71V1220ZM1434.09 1220V964.7H1435.54V1220ZM1439.92 1220V907.97H1441.37V1220ZM1445.75 1220V1049.8H1447.21V1220ZM1451.58 1220V993.07H1453.04V1220ZM1457.41 1220V907.97H1458.87V1220ZM1463.24 1220V1049.8H1464.7V1220ZM1469.07 1220V993.07H1470.53V1220ZM1474.91 1220V1021.43H1476.36V1220ZM1480.74 1220V1021.43H1482.19V1220ZM1486.57 1220V993.07H1488.03V1220ZM1492.4 1220V1078.17H1493.86V1220ZM1498.23 1220V964.7H1499.69V1220ZM1504.06 1220V936.33H1505.52V1220ZM1509.89 1220V1049.8H1511.35V1220ZM1515.73 1220V964.7H1517.18V1220ZM1521.56 1220V964.7H1523.01V1220ZM1527.39 1220V1049.8H1528.85V1220ZM1533.22 1220V936.33H1534.68V1220ZM1539.05 1220V907.97H1540.51V1220ZM1544.88 1220V993.07H1546.34V1220ZM1550.71 1220V1021.43H1552.17V1220ZM1556.55 1220V964.7H1558V1220ZM1562.38 1220V936.33H1563.83V1220ZM1568.21 1220V1049.8H1569.67V1220ZM1574.04 1220V1021.43H1575.5V1220ZM1579.87 1220V1049.8H1581.33V1220ZM1585.7 1220V1049.8H1587.16V1220ZM1591.53 1220V993.07H1592.99V1220ZM1597.37 1220V993.07H1598.82V1220ZM1603.2 1220V1049.8H1604.65V1220ZM1609.03 1220V1021.43H1610.49V1220ZM1614.86 1220V936.33H1616.32V1220ZM1620.69 1220V993.07H1622.15V1220ZM1626.52 1220V1049.8H1627.98V1220ZM1632.35 1220V964.7H1633.81V1220ZM1638.19 1220V1049.8H1639.64V1220ZM1644.02 1220V936.33H1645.47V1220ZM1649.85 1220V993.07H1651.31V1220ZM1655.68 1220V1078.17H1657.14V1220ZM1661.51 1220V1078.17H1662.97V1220ZM1667.34 1220V964.7H1668.8V1220ZM1673.17 1220V1049.8H1674.63V1220ZM1679.01 1220V1021.43H1680.46V1220ZM1684.84 1220V907.97H1686.29V1220ZM1690.67 1220V1106.53H1692.13V1220ZM1696.5 1220V993.07H1697.96V1220ZM1702.33 1220V993.07H1703.79V1220ZM1708.16 1220V993.07H1709.62V1220ZM1713.99 1220V993.07H1715.45V1220ZM1719.83 1220V1078.17H1721.28V1220ZM1725.66 1220V936.33H1727.11V1220ZM1731.49 1220V993.07H1732.95V1220ZM1737.32 1220V1021.43H1738.78V1220ZM1743.15 1220V936.33H1744.61V1220ZM1748.98 1220V1021.43H1750.44V1220ZM1754.81 1220V1021.43H1756.27V1220ZM1760.65 1220V1049.8H1762.1V1220ZM1766.48 1220V936.33H1767.93V1220ZM1772.31 1220V1021.43H1773.77V1220ZM1778.14 1220V1021.43H1779.6V1220ZM1783.97 1220V993.07H1785.43V1220ZM1789.8 1220V936.33H1791.26V1220ZM1795.63 1220V1021.43H1797.09V1220ZM1801.47 1220V993.07H1802.92V1220ZM1807.3 1220V1078.17H1808.75V1220ZM1813.13 1220V879.6H1814.59V1220ZM1818.96 1220V993.07H1820.42V1220ZM1824.79 1220V993.07H1826.25V1220ZM1830.62 1220V993.07H1832.08V1220ZM1836.45 1220V1021.43H1837.91V1220ZM1842.29 1220V1049.8H1843.74V1220ZM1848.12 1220V1049.8H1849.57V1220ZM1853.95 1220V1078.17H1855.41V1220ZM1859.78 1220V936.33H1861.24V1220ZM1865.61 1220V964.7H1867.07V1220ZM1871.44 1220V936.33H1872.9V1220ZM1877.27 1220V993.07H1878.73V1220ZM1883.11 1220V964.7H1884.56V1220ZM1888.94 1220V1049.8H1890.39V1220ZM1894.77 1220V936.33H1896.23V1220ZM1900.6 1220V993.07H1902.06V1220ZM1906.43 1220V1049.8H1907.89V1220ZM1912.26 1220V907.97H1913.72V1220ZM1918.09 1220V964.7H1919.55V1220ZM1923.93 1220V1021.43H1925.38V1220ZM1929.76 1220V1021.43H1931.21V1220ZM1935.59 1220V993.07H1937.05V1220ZM1941.42 1220V993.07H1942.88V1220ZM1947.25 1220V879.6H1948.71V1220ZM1953.08 1220V936.33H1954.54V1220ZM1958.91 1220V1049.8H1960.37V1220ZM1964.75 1220V907.97H1966.2V1220ZM1970.58 1220V879.6H1972.03V1220ZM1976.41 1220V936.33H1977.87V1220ZM1982.24 1220V936.33H1983.7V1220ZM1988.07 1220V1021.43H1989.53V1220ZM1993.9 1220V1021.43H1995.36V1220ZM1999.73 1220V993.07H2001.19V1220ZM2005.57 1220V1021.43H2007.02V1220ZM2011.4 1220V1021.43H2012.85V1220ZM2017.23 1220V1021.43H2018.69V1220ZM2023.06 1220V907.97H2024.52V1220ZM2028.89 1220V936.33H2030.35V1220ZM2034.72 1220V936.33H2036.18V1220ZM2040.55 1220V1021.43H2042.01V1220ZM2046.39 1220V936.33H2047.84V1220ZM2052.22 1220V964.7H2053.67V1220ZM2058.05 1220V907.97H2059.51V1220ZM2063.88 1220V964.7H2065.34V1220ZM2069.71 1220V993.07H2071.17V1220ZM2075.54 1220V879.6H2077V1220ZM2081.37 1220V964.7H2082.83V1220ZM2087.21 1220V993.07H2088.66V1220ZM2093.04 1220V1021.43H2094.49V1220ZM2098.87 1220V879.6H2100.33V1220ZM2104.7 1220V907.97H2106.16V1220ZM2110.53 1220V1049.8H2111.99V1220ZM2116.36 1220V1021.43H2117.82V1220ZM2122.19 1220V1021.43H2123.65V1220ZM2128.03 1220V1021.43H2129.48V1220ZM2133.86 1220V1021.43H2135.31V1220ZM2139.69 1220V907.97H2141.15V1220ZM2145.52 1220V936.33H2146.98V1220ZM2151.35 1220V964.7H2152.81V1220ZM2157.18 1220V993.07H2158.64V1220ZM2163.01 1220V936.33H2164.47V1220ZM2168.85 1220V936.33H2170.3V1220ZM2174.68 1220V936.33H2176.13V1220ZM2180.51 1220V851.23H2181.97V1220ZM2186.34 1220V1049.8H2187.8V1220ZM2192.17 1220V907.97H2193.63V1220ZM2198 1220V964.7H2199.46V1220ZM2203.83 1220V964.7H2205.29V1220ZM2209.67 1220V1078.17H2211.12V1220ZM2215.5 1220V1078.17H2216.95V1220ZM2221.33 1220V907.97H2222.79V1220ZM2227.16 1220V936.33H2228.62V1220ZM2232.99 1220V1021.43H2234.45V1220ZM2238.82 1220V1021.43H2240.28V1220ZM2244.65 1220V1021.43H2246.11V1220ZM2250.49 1220V964.7H2251.94V1220ZM2256.32 1220V1078.17H2257.77V1220ZM2262.15 1220V964.7H2263.61V1220ZM2267.98 1220V1021.43H2269.44V1220ZM2273.81 1220V936.33H2275.27V1220ZM2279.64 1220V1049.8H2281.1V1220ZM2285.47 1220V879.6H2286.93V1220ZM2291.31 1220V936.33H2292.76V1220ZM2297.14 1220V1078.17H2298.59V1220ZM2302.97 1220V907.97H2304.43V1220ZM2308.8 1220V851.23H2310.26V1220ZM2314.63 1220V936.33H2316.09V1220ZM2320.46 1220V879.6H2321.92V1220ZM2326.29 1220V907.97H2327.75V1220ZM2332.13 1220V964.7H2333.58V1220ZM2337.96 1220V964.7H2339.41V1220ZM2343.79 1220V993.07H2345.25V1220ZM2349.62 1220V993.07H2351.08V1220ZM2355.45 1220V879.6H2356.91V1220ZM2361.28 1220V964.7H2362.74V1220ZM2367.11 1220V993.07H2368.57V1220ZM2372.95 1220V1021.43H2374.4V1220ZM2378.78 1220V964.7H2380.23V1220ZM2384.61 1220V936.33H2386.07V1220ZM2390.44 1220V964.7H2391.9V1220ZM2396.27 1220V1021.43H2397.73V1220ZM2402.1 1220V879.6H2403.56V1220ZM2407.93 1220V1049.8H2409.39V1220ZM2413.77 1220V907.97H2415.22V1220ZM2419.6 1220V936.33H2421.05V1220ZM2425.43 1220V964.7H2426.89V1220ZM2431.26 1220V964.7H2432.72V1220ZM2437.09 1220V993.07H2438.55V1220Z"/><path shape-rendering="crispEdges" fill="#D95319" d="M362.68 1220V1078.17H364.13V1220ZM368.51 1220V1049.8H369.97V1220ZM374.34 1220V1106.53H375.8V1220ZM380.17 1220V1049.8H381.63V1220ZM386 1220V1049.8H387.46V1220ZM391.83 1220V1106.53H393.29V1220ZM397.67 1220V1049.8H399.12V1220ZM403.5 1220V1106.53H404.95V1220ZM409.33 1220V1049.8H410.79V1220ZM415.16 1220V964.7H416.62V1220ZM420.99 1220V1021.43H422.45V1220ZM426.82 1220V1106.53H428.28V1220ZM432.65 1220V1021.43H434.11V1220ZM438.49 1220V1106.53H439.94V1220ZM444.32 1220V1078.17H445.77V1220ZM450.15 1220V907.97H451.61V1220ZM455.98 1220V1021.43H457.44V1220ZM461.81 1220V1134.9H463.27V1220ZM467.64 1220V993.07H469.1V1220ZM473.47 1220V1078.17H474.93V1220ZM479.31 1220V993.07H480.76V1220ZM485.14 1220V936.33H486.59V1220ZM490.97 1220V1021.43H492.43V1220ZM496.8 1220V1021.43H498.26V1220ZM502.63 1220V1049.8H504.09V1220ZM508.46 1220V1021.43H509.92V1220ZM514.29 1220V1049.8H515.75V1220ZM520.13 1220V993.07H521.58V1220ZM525.96 1220V1078.17H527.41V1220ZM531.79 1220V1134.9H533.25V1220ZM537.62 1220V1106.53H539.08V1220ZM543.45 1220V1078.17H544.91V1220ZM549.28 1220V1021.43H550.74V1220ZM555.11 1220V1049.8H556.57V1220ZM560.95 1220V1078.17H562.4V1220ZM566.78 1220V1078.17H568.23V1220ZM572.61 1220V1049.8H574.07V1220ZM578.44 1220V1021.43H579.9V1220ZM584.27 1220V1106.53H585.73V1220ZM590.1 1220V1049.8H591.56V1220ZM595.93 1220V1021.43H597.39V1220ZM601.77 1220V907.97H603.22V1220ZM607.6 1220V993.07H609.05V1220ZM613.43 1220V936.33H614.89V1220ZM619.26 1220V1049.8H620.72V1220ZM625.09 1220V1106.53H626.55V1220ZM630.92 1220V1049.8H632.38V1220ZM636.75 1220V1049.8H638.21V1220ZM642.59 1220V1049.8H644.04V1220ZM648.42 1220V1106.53H649.87V1220ZM654.25 1220V1049.8H655.71V1220ZM660.08 1220V1078.17H661.54V1220ZM665.91 1220V964.7H667.37V1220ZM671.74 1220V993.07H673.2V1220ZM677.57 1220V1049.8H679.03V1220ZM683.41 1220V1021.43H684.86V1220ZM689.24 1220V907.97H690.69V1220ZM695.07 1220V1049.8H696.53V1220ZM700.9 1220V1106.53H702.36V1220ZM706.73 1220V1106.53H708.19V1220ZM712.56 1220V993.07H714.02V1220ZM718.39 1220V1078.17H719.85V1220ZM724.23 1220V1078.17H725.68V1220ZM730.06 1220V1021.43H731.51V1220ZM735.89 1220V1049.8H737.35V1220ZM741.72 1220V1078.17H743.18V1220ZM747.55 1220V1078.17H749.01V1220ZM753.38 1220V993.07H754.84V1220ZM759.21 1220V1106.53H760.67V1220ZM765.05 1220V1078.17H766.5V1220ZM770.88 1220V1049.8H772.33V1220ZM776.71 1220V1049.8H778.17V1220ZM782.54 1220V1078.17H784V1220ZM788.37 1220V964.7H789.83V1220ZM794.2 1220V936.33H795.66V1220ZM800.03 1220V851.23H801.49V1220ZM805.87 1220V964.7H807.32V1220ZM811.7 1220V1021.43H813.15V1220ZM817.53 1220V993.07H818.99V1220ZM823.36 1220V907.97H824.82V1220ZM829.19 1220V1078.17H830.65V1220ZM835.02 1220V1049.8H836.48V1220ZM840.85 1220V1078.17H842.31V1220ZM846.69 1220V1078.17H848.14V1220ZM852.52 1220V1049.8H853.97V1220ZM858.35 1220V964.7H859.81V1220ZM864.18 1220V1049.8H865.64V1220ZM870.01 1220V1021.43H871.47V1220ZM875.84 1220V879.6H877.3V1220ZM881.67 1220V1078.17H883.13V1220ZM887.51 1220V1021.43H888.96V1220ZM893.34 1220V1049.8H894.79V1220ZM899.17 1220V1049.8H900.63V1220ZM905 1220V964.7H906.46V1220ZM910.83 1220V1078.17H912.29V1220ZM916.66 1220V993.07H918.12V1220ZM922.49 1220V1106.53H923.95V1220ZM928.33 1220V993.07H929.78V1220ZM934.16 1220V1078.17H935.61V1220ZM939.99 1220V1021.43H941.45V1220ZM945.82 1220V1049.8H947.28V1220ZM951.65 1220V1049.8H953.11V1220ZM957.48 1220V1106.53H958.94V1220ZM963.31 1220V1049.8H964.77V1220ZM969.15 1220V1049.8H970.6V1220ZM974.98 1220V1049.8H976.43V1220ZM980.81 1220V1078.17H982.27V1220ZM986.64 1220V1078.17H988.1V1220ZM992.47 1220V1078.17H993.93V1220ZM998.3 1220V1049.8H999.76V1220ZM1004.13 1220V993.07H1005.59V1220ZM1009.97 1220V1021.43H1011.42V1220ZM1015.8 1220V1106.53H1017.25V1220ZM1021.63 1220V1078.17H1023.09V1220ZM1027.46 1220V1078.17H1028.92V1220ZM1033.29 1220V1078.17H1034.75V1220ZM1039.12 1220V1049.8H1040.58V1220ZM1044.95 1220V1106.53H1046.41V1220ZM1050.79 1220V964.7H1052.24V1220ZM1056.62 1220V1078.17H1058.07V1220ZM1062.45 1220V1021.43H1063.91V1220ZM1068.28 1220V964.7H1069.74V1220ZM1074.11 1220V993.07H1075.57V1220ZM1079.94 1220V1106.53H1081.4V1220ZM1085.77 1220V936.33H1087.23V1220ZM1091.61 1220V993.07H1093.06V1220ZM1097.44 1220V936.33H1098.89V1220ZM1103.27 1220V1021.43H1104.73V1220ZM1109.1 1220V1078.17H1110.56V1220ZM1114.93 1220V1049.8H1116.39V1220ZM1120.76 1220V993.07H1122.22V1220ZM1126.59 1220V1021.43H1128.05V1220ZM1132.43 1220V1106.53H1133.88V1220ZM1138.26 1220V1049.8H1139.71V1220ZM1144.09 1220V1078.17H1145.55V1220ZM1149.92 1220V1078.17H1151.38V1220ZM1155.75 1220V1049.8H1157.21V1220ZM1161.58 1220V1049.8H1163.04V1220ZM1167.41 1220V1049.8H1168.87V1220ZM1173.25 1220V993.07H1174.7V1220ZM1179.08 1220V1049.8H1180.53V1220ZM1184.91 1220V1021.43H1186.37V1220ZM1190.74 1220V1106.53H1192.2V1220ZM1196.57 1220V1021.43H1198.03V1220ZM1202.4 1220V964.7H1203.86V1220ZM1208.23 1220V1106.53H1209.69V1220ZM1214.07 1220V964.7H1215.52V1220ZM1219.9 1220V1049.8H1221.35V1220ZM1225.73 1220V1021.43H1227.19V1220ZM1231.56 1220V1106.53H1233.02V1220ZM1237.39 1220V1078.17H1238.85V1220ZM1243.22 1220V1078.17H1244.68V1220ZM1249.05 1220V1021.43H1250.51V1220ZM1254.89 1220V1078.17H1256.34V1220ZM1260.72 1220V993.07H1262.17V1220ZM1266.55 1220V1049.8H1268.01V1220ZM1272.38 1220V1078.17H1273.84V1220ZM1278.21 1220V1078.17H1279.67V1220ZM1284.04 1220V907.97H1285.5V1220ZM1289.87 1220V964.7H1291.33V1220ZM1295.71 1220V936.33H1297.16V1220ZM1301.54 1220V1021.43H1302.99V1220ZM1307.37 1220V1049.8H1308.83V1220ZM1313.2 1220V1049.8H1314.66V1220ZM1319.03 1220V1049.8H1320.49V1220ZM1324.86 1220V1021.43H1326.32V1220ZM1330.69 1220V1021.43H1332.15V1220ZM1336.53 1220V964.7H1337.98V1220ZM1342.36 1220V993.07H1343.81V1220ZM1348.19 1220V1106.53H1349.65V1220ZM1354.02 1220V1106.53H1355.48V1220ZM1359.85 1220V993.07H1361.31V1220ZM1365.68 1220V1106.53H1367.14V1220ZM1371.51 1220V1021.43H1372.97V1220ZM1377.35 1220V1106.53H1378.8V1220ZM1383.18 1220V1078.17H1384.63V1220ZM1389.01 1220V1106.53H1390.47V1220ZM1394.84 1220V1021.43H1396.3V1220ZM1400.67 1220V1106.53H1402.13V1220ZM1406.5 1220V1049.8H1407.96V1220ZM1412.33 1220V1021.43H1413.79V1220ZM1418.17 1220V1049.8H1419.62V1220ZM1424 1220V936.33H1425.45V1220ZM1429.83 1220V1049.8H1431.29V1220ZM1435.66 1220V907.97H1437.12V1220ZM1441.49 1220V1106.53H1442.95V1220ZM1447.32 1220V1021.43H1448.78V1220ZM1453.15 1220V993.07H1454.61V1220ZM1458.99 1220V1049.8H1460.44V1220ZM1464.82 1220V1078.17H1466.27V1220ZM1470.65 1220V1078.17H1472.11V1220ZM1476.48 1220V1021.43H1477.94V1220ZM1482.31 1220V1021.43H1483.77V1220ZM1488.14 1220V1078.17H1489.6V1220ZM1493.97 1220V1021.43H1495.43V1220ZM1499.81 1220V1021.43H1501.26V1220ZM1505.64 1220V1049.8H1507.09V1220ZM1511.47 1220V993.07H1512.93V1220ZM1517.3 1220V1021.43H1518.76V1220ZM1523.13 1220V1106.53H1524.59V1220ZM1528.96 1220V1049.8H1530.42V1220ZM1534.79 1220V936.33H1536.25V1220ZM1540.63 1220V1021.43H1542.08V1220ZM1546.46 1220V1134.9H1547.91V1220ZM1552.29 1220V1021.43H1553.75V1220ZM1558.12 1220V1078.17H1559.58V1220ZM1563.95 1220V1049.8H1565.41V1220ZM1569.78 1220V1106.53H1571.24V1220ZM1575.61 1220V1106.53H1577.07V1220ZM1581.45 1220V1106.53H1582.9V1220ZM1587.28 1220V1049.8H1588.73V1220ZM1593.11 1220V993.07H1594.57V1220ZM1598.94 1220V1078.17H1600.4V1220ZM1604.77 1220V1106.53H1606.23V1220ZM1610.6 1220V936.33H1612.06V1220ZM1616.43 1220V1021.43H1617.89V1220ZM1622.27 1220V1106.53H1623.72V1220ZM1628.1 1220V1021.43H1629.55V1220ZM1633.93 1220V1106.53H1635.39V1220ZM1639.76 1220V1021.43H1641.22V1220ZM1645.59 1220V993.07H1647.05V1220ZM1651.42 1220V1078.17H1652.88V1220ZM1657.25 1220V1106.53H1658.71V1220ZM1663.09 1220V1049.8H1664.54V1220ZM1668.92 1220V1078.17H1670.37V1220ZM1674.75 1220V1049.8H1676.21V1220ZM1680.58 1220V936.33H1682.04V1220ZM1686.41 1220V1106.53H1687.87V1220ZM1692.24 1220V1049.8H1693.7V1220ZM1698.07 1220V1049.8H1699.53V1220ZM1703.91 1220V1021.43H1705.36V1220ZM1709.74 1220V936.33H1711.19V1220ZM1715.57 1220V1106.53H1717.03V1220ZM1721.4 1220V879.6H1722.86V1220ZM1727.23 1220V1134.9H1728.69V1220ZM1733.06 1220V1078.17H1734.52V1220ZM1738.89 1220V1021.43H1740.35V1220ZM1744.73 1220V1106.53H1746.18V1220ZM1750.56 1220V1021.43H1752.01V1220ZM1756.39 1220V1078.17H1757.85V1220ZM1762.22 1220V1106.53H1763.68V1220ZM1768.05 1220V1078.17H1769.51V1220ZM1773.88 1220V1049.8H1775.34V1220ZM1779.71 1220V1078.17H1781.17V1220ZM1785.55 1220V1021.43H1787V1220ZM1791.38 1220V1049.8H1792.83V1220ZM1797.21 1220V1078.17H1798.67V1220ZM1803.04 1220V1106.53H1804.5V1220ZM1808.87 1220V879.6H1810.33V1220ZM1814.7 1220V1049.8H1816.16V1220ZM1820.53 1220V1049.8H1821.99V1220ZM1826.37 1220V1049.8H1827.82V1220ZM1832.2 1220V1021.43H1833.65V1220ZM1838.03 1220V1078.17H1839.49V1220ZM1843.86 1220V1049.8H1845.32V1220ZM1849.69 1220V1049.8H1851.15V1220ZM1855.52 1220V1049.8H1856.98V1220ZM1861.35 1220V1049.8H1862.81V1220ZM1867.19 1220V1021.43H1868.64V1220ZM1873.02 1220V1021.43H1874.47V1220ZM1878.85 1220V1049.8H1880.31V1220ZM1884.68 1220V1078.17H1886.14V1220ZM1890.51 1220V964.7H1891.97V1220ZM1896.34 1220V1049.8H1897.8V1220ZM1902.17 1220V1049.8H1903.63V1220ZM1908.01 1220V1021.43H1909.46V1220ZM1913.84 1220V1078.17H1915.29V1220ZM1919.67 1220V1021.43H1921.13V1220ZM1925.5 1220V1078.17H1926.96V1220ZM1931.33 1220V1078.17H1932.79V1220ZM1937.16 1220V1106.53H1938.62V1220ZM1942.99 1220V936.33H1944.45V1220ZM1948.83 1220V1021.43H1950.28V1220ZM1954.66 1220V1078.17H1956.11V1220ZM1960.49 1220V993.07H1961.95V1220ZM1966.32 1220V1049.8H1967.78V1220ZM1972.15 1220V993.07H1973.61V1220ZM1977.98 1220V1049.8H1979.44V1220ZM1983.81 1220V1078.17H1985.27V1220ZM1989.65 1220V1078.17H1991.1V1220ZM1995.48 1220V993.07H1996.93V1220ZM2001.31 1220V1049.8H2002.77V1220ZM2007.14 1220V993.07H2008.6V1220ZM2012.97 1220V1106.53H2014.43V1220ZM2018.8 1220V993.07H2020.26V1220ZM2024.63 1220V964.7H2026.09V1220ZM2030.47 1220V993.07H2031.92V1220ZM2036.3 1220V1021.43H2037.75V1220ZM2042.13 1220V1021.43H2043.59V1220ZM2047.96 1220V1021.43H2049.42V1220ZM2053.79 1220V993.07H2055.25V1220ZM2059.62 1220V1049.8H2061.08V1220ZM2065.45 1220V1021.43H2066.91V1220ZM2071.29 1220V964.7H2072.74V1220ZM2077.12 1220V1021.43H2078.57V1220ZM2082.95 1220V993.07H2084.41V1220ZM2088.78 1220V1106.53H2090.24V1220ZM2094.61 1220V993.07H2096.07V1220ZM2100.44 1220V1021.43H2101.9V1220ZM2106.27 1220V1049.8H2107.73V1220ZM2112.11 1220V1049.8H2113.56V1220ZM2117.94 1220V1049.8H2119.39V1220ZM2123.77 1220V1106.53H2125.23V1220ZM2129.6 1220V1049.8H2131.06V1220ZM2135.43 1220V964.7H2136.89V1220ZM2141.26 1220V993.07H2142.72V1220ZM2147.09 1220V993.07H2148.55V1220ZM2152.93 1220V1078.17H2154.38V1220ZM2158.76 1220V1021.43H2160.21V1220ZM2164.59 1220V1049.8H2166.05V1220ZM2170.42 1220V1049.8H2171.88V1220ZM2176.25 1220V993.07H2177.71V1220ZM2182.08 1220V1049.8H2183.54V1220ZM2187.91 1220V1078.17H2189.37V1220ZM2193.75 1220V1021.43H2195.2V1220ZM2199.58 1220V1049.8H2201.03V1220ZM2205.41 1220V1078.17H2206.87V1220ZM2211.24 1220V1078.17H2212.7V1220ZM2217.07 1220V907.97H2218.53V1220ZM2222.9 1220V1049.8H2224.36V1220ZM2228.73 1220V1049.8H2230.19V1220ZM2234.57 1220V1021.43H2236.02V1220ZM2240.4 1220V1078.17H2241.85V1220ZM2246.23 1220V1049.8H2247.69V1220ZM2252.06 1220V1078.17H2253.52V1220ZM2257.89 1220V1049.8H2259.35V1220ZM2263.72 1220V1021.43H2265.18V1220ZM2269.55 1220V1078.17H2271.01V1220ZM2275.39 1220V1078.17H2276.84V1220ZM2281.22 1220V1021.43H2282.67V1220ZM2287.05 1220V1021.43H2288.51V1220ZM2292.88 1220V1078.17H2294.34V1220ZM2298.71 1220V907.97H2300.17V1220ZM2304.54 1220V1021.43H2306V1220ZM2310.37 1220V1021.43H2311.83V1220ZM2316.21 1220V1021.43H2317.66V1220ZM2322.04 1220V936.33H2323.49V1220ZM2327.87 1220V1049.8H2329.33V1220ZM2333.7 1220V1021.43H2335.16V1220ZM2339.53 1220V1106.53H2340.99V1220ZM2345.36 1220V1049.8H2346.82V1220ZM2351.19 1220V907.97H2352.65V1220ZM2357.03 1220V1134.9H2358.48V1220ZM2362.86 1220V1021.43H2364.31V1220ZM2368.69 1220V1078.17H2370.15V1220ZM2374.52 1220V1078.17H2375.98V1220ZM2380.35 1220V936.33H2381.81V1220ZM2386.18 1220V1106.53H2387.64V1220ZM2392.01 1220V1078.17H2393.47V1220ZM2397.85 1220V993.07H2399.3V1220ZM2403.68 1220V1078.17H2405.13V1220ZM2409.51 1220V1049.8H2410.97V1220ZM2415.34 1220V1021.43H2416.8V1220ZM2421.17 1220V1049.8H2422.63V1220ZM2427 1220V1021.43H2428.46V1220ZM2432.83 1220V1021.43H2434.29V1220ZM2438.67 1220V1078.17H2440.12V1220Z"/></g><path shape-rendering="crispEdges" stroke="#0d0d0d" stroke-width="2" fill="none" d="M356 1220v-21M356 794V815.5M647.57 1220v-21M647.57 794V815.5M939.14 1220v-21M939.14 794V815.5M1230.71 1220v-21M1230.71 794V815.5M1522.29 1220v-21M1522.29 794V815.5M1813.86 1220v-21M1813.86 794V815.5M2105.43 1220v-21M2105.43 794V815.5M2397 1220v-21M2397 794V815.5M351 1078.17h21M2443 1078.17h-21M351 936.33h21M2443 936.33h-21"/><rect shape-rendering="crispEdges" x="351" y="794" width="2092" height="426" fill="none" stroke="#0d0d0d" stroke-width="2"/><rect shape-rendering="crispEdges" x="350" y="1218.7" width="2094" height="2.6" fill="#1c1c1c"/><text x="356.75" y="1259.3" font-size="33.33" text-anchor="middle">0</text><text x="648.16" y="1259.3" font-size="33.33" text-anchor="middle">50</text><text x="939.58" y="1259.3" font-size="33.33" text-anchor="middle">100</text><text x="1230.99" y="1259.3" font-size="33.33" text-anchor="middle">150</text><text x="1522.41" y="1259.3" font-size="33.33" text-anchor="middle">200</text><text x="1813.82" y="1259.3" font-size="33.33" text-anchor="middle">250</text><text x="2105.24" y="1259.3" font-size="33.33" text-anchor="middle">300</text><text x="2396.65" y="1259.3" font-size="33.33" text-anchor="middle">350</text><text x="343" y="1232.9" font-size="33.33" text-anchor="end">0</text><text x="343" y="1090.97" font-size="33.33" text-anchor="end">5</text><text x="343" y="949.03" font-size="33.33" text-anchor="end">10</text><text x="343" y="807.1" font-size="33.33" text-anchor="end">15</text><text x="1398" y="783.6" font-size="36.67" font-weight="bold" text-anchor="middle" fill="#000" style="fill:#000">8474: GPS Number of satellites in fix</text><text transform="translate(288.3 1008) rotate(-90)" font-size="36.67" text-anchor="middle">Nsat</text></g><g><path shape-rendering="crispEdges" stroke="#dcdcdc" stroke-width="2" fill="none" d="M356 1386V1811M647.57 1386V1811M939.14 1386V1811M1230.71 1386V1811M1522.29 1386V1811M1813.86 1386V1811M2105.43 1386V1811M2397 1386V1811M351 1726H2443M351 1641H2443M351 1556H2443M351 1471H2443"/><g clip-path="url(#c2)"><path shape-rendering="crispEdges" fill="#0072BD" d="M355.27 1811V1734.5H356.73V1811ZM361.1 1811V1726H362.56V1811ZM366.93 1811V1734.5H368.39V1811ZM372.77 1811V1764.25H374.22V1811ZM378.6 1811V1743H380.05V1811ZM384.43 1811V1764.25H385.89V1811ZM390.26 1811V1726H391.72V1811ZM396.09 1811V1764.25H397.55V1811ZM401.92 1811V1747.25H403.38V1811ZM407.75 1811V1696.25H409.21V1811ZM413.59 1811V1717.5H415.04V1811ZM419.42 1811V1768.5H420.87V1811ZM425.25 1811V1764.25H426.71V1811ZM431.08 1811V1755.75H432.54V1811ZM436.91 1811V1777H438.37V1811ZM442.74 1811V1764.25H444.2V1811ZM448.57 1811V1764.25H450.03V1811ZM454.41 1811V1777H455.86V1811ZM460.24 1811V1777H461.69V1811ZM466.07 1811V1730.25H467.53V1811ZM471.9 1811V1777H473.36V1811ZM477.73 1811V1764.25H479.19V1811ZM483.56 1811V1760H485.02V1811ZM489.39 1811V1777H490.85V1811ZM495.23 1811V1772.75H496.68V1811ZM501.06 1811V1777H502.51V1811ZM506.89 1811V1768.5H508.35V1811ZM512.72 1811V1747.25H514.18V1811ZM518.55 1811V1772.75H520.01V1811ZM524.38 1811V1768.5H525.84V1811ZM530.21 1811V1777H531.67V1811ZM536.05 1811V1755.75H537.5V1811ZM541.88 1811V1760H543.33V1811ZM547.71 1811V1764.25H549.17V1811ZM553.54 1811V1772.75H555V1811ZM559.37 1811V1777H560.83V1811ZM565.2 1811V1772.75H566.66V1811ZM571.03 1811V1768.5H572.49V1811ZM576.87 1811V1768.5H578.32V1811ZM582.7 1811V1772.75H584.15V1811ZM588.53 1811V1768.5H589.99V1811ZM594.36 1811V1760H595.82V1811ZM600.19 1811V1768.5H601.65V1811ZM606.02 1811V1777H607.48V1811ZM611.85 1811V1777H613.31V1811ZM617.69 1811V1777H619.14V1811ZM623.52 1811V1777H624.97V1811ZM629.35 1811V1760H630.81V1811ZM635.18 1811V1772.75H636.64V1811ZM641.01 1811V1768.5H642.47V1811ZM646.84 1811V1781.25H648.3V1811ZM652.67 1811V1760H654.13V1811ZM658.51 1811V1777H659.96V1811ZM664.34 1811V1768.5H665.79V1811ZM670.17 1811V1772.75H671.63V1811ZM676 1811V1772.75H677.46V1811ZM681.83 1811V1777H683.29V1811ZM687.66 1811V1781.25H689.12V1811ZM693.49 1811V1777H694.95V1811ZM699.33 1811V1772.75H700.78V1811ZM705.16 1811V1760H706.61V1811ZM710.99 1811V1734.5H712.45V1811ZM716.82 1811V1777H718.28V1811ZM722.65 1811V1772.75H724.11V1811ZM728.48 1811V1751.5H729.94V1811ZM734.31 1811V1764.25H735.77V1811ZM740.15 1811V1755.75H741.6V1811ZM745.98 1811V1755.75H747.43V1811ZM751.81 1811V1777H753.27V1811ZM757.64 1811V1755.75H759.1V1811ZM763.47 1811V1772.75H764.93V1811ZM769.3 1811V1772.75H770.76V1811ZM775.13 1811V1772.75H776.59V1811ZM780.97 1811V1764.25H782.42V1811ZM786.8 1811V1772.75H788.25V1811ZM792.63 1811V1777H794.09V1811ZM798.46 1811V1781.25H799.92V1811ZM804.29 1811V1777H805.75V1811ZM810.12 1811V1772.75H811.58V1811ZM815.95 1811V1768.5H817.41V1811ZM821.79 1811V1760H823.24V1811ZM827.62 1811V1777H829.07V1811ZM833.45 1811V1772.75H834.91V1811ZM839.28 1811V1772.75H840.74V1811ZM845.11 1811V1777H846.57V1811ZM850.94 1811V1772.75H852.4V1811ZM856.77 1811V1760H858.23V1811ZM862.61 1811V1760H864.06V1811ZM868.44 1811V1777H869.89V1811ZM874.27 1811V1772.75H875.73V1811ZM880.1 1811V1781.25H881.56V1811ZM885.93 1811V1755.75H887.39V1811ZM891.76 1811V1772.75H893.22V1811ZM897.59 1811V1721.75H899.05V1811ZM903.43 1811V1772.75H904.88V1811ZM909.26 1811V1781.25H910.71V1811ZM915.09 1811V1781.25H916.55V1811ZM920.92 1811V1777H922.38V1811ZM926.75 1811V1760H928.21V1811ZM932.58 1811V1781.25H934.04V1811ZM938.41 1811V1772.75H939.87V1811ZM944.25 1811V1777H945.7V1811ZM950.08 1811V1764.25H951.53V1811ZM955.91 1811V1751.5H957.37V1811ZM961.74 1811V1772.75H963.2V1811ZM967.57 1811V1772.75H969.03V1811ZM973.4 1811V1738.75H974.86V1811ZM979.23 1811V1755.75H980.69V1811ZM985.07 1811V1768.5H986.52V1811ZM990.9 1811V1755.75H992.35V1811ZM996.73 1811V1772.75H998.19V1811ZM1002.56 1811V1772.75H1004.02V1811ZM1008.39 1811V1777H1009.85V1811ZM1014.22 1811V1772.75H1015.68V1811ZM1020.05 1811V1768.5H1021.51V1811ZM1025.89 1811V1755.75H1027.34V1811ZM1031.72 1811V1734.5H1033.17V1811ZM1037.55 1811V1772.75H1039.01V1811ZM1043.38 1811V1768.5H1044.84V1811ZM1049.21 1811V1777H1050.67V1811ZM1055.04 1811V1777H1056.5V1811ZM1060.87 1811V1768.5H1062.33V1811ZM1066.71 1811V1768.5H1068.16V1811ZM1072.54 1811V1764.25H1073.99V1811ZM1078.37 1811V1777H1079.83V1811ZM1084.2 1811V1772.75H1085.66V1811ZM1090.03 1811V1772.75H1091.49V1811ZM1095.86 1811V1777H1097.32V1811ZM1101.69 1811V1781.25H1103.15V1811ZM1107.53 1811V1768.5H1108.98V1811ZM1113.36 1811V1768.5H1114.81V1811ZM1119.19 1811V1781.25H1120.65V1811ZM1125.02 1811V1768.5H1126.48V1811ZM1130.85 1811V1772.75H1132.31V1811ZM1136.68 1811V1743H1138.14V1811ZM1142.51 1811V1768.5H1143.97V1811ZM1148.35 1811V1738.75H1149.8V1811ZM1154.18 1811V1751.5H1155.63V1811ZM1160.01 1811V1777H1161.47V1811ZM1165.84 1811V1772.75H1167.3V1811ZM1171.67 1811V1781.25H1173.13V1811ZM1177.5 1811V1768.5H1178.96V1811ZM1183.33 1811V1781.25H1184.79V1811ZM1189.17 1811V1772.75H1190.62V1811ZM1195 1811V1717.5H1196.45V1811ZM1200.83 1811V1772.75H1202.29V1811ZM1206.66 1811V1777H1208.12V1811ZM1212.49 1811V1772.75H1213.95V1811ZM1218.32 1811V1772.75H1219.78V1811ZM1224.15 1811V1777H1225.61V1811ZM1229.99 1811V1764.25H1231.44V1811ZM1235.82 1811V1709H1237.27V1811ZM1241.65 1811V1777H1243.11V1811ZM1247.48 1811V1760H1248.94V1811ZM1253.31 1811V1777H1254.77V1811ZM1259.14 1811V1768.5H1260.6V1811ZM1264.97 1811V1743H1266.43V1811ZM1270.81 1811V1772.75H1272.26V1811ZM1276.64 1811V1755.75H1278.09V1811ZM1282.47 1811V1772.75H1283.93V1811ZM1288.3 1811V1781.25H1289.76V1811ZM1294.13 1811V1781.25H1295.59V1811ZM1299.96 1811V1768.5H1301.42V1811ZM1305.79 1811V1777H1307.25V1811ZM1311.63 1811V1772.75H1313.08V1811ZM1317.46 1811V1772.75H1318.91V1811ZM1323.29 1811V1738.75H1324.75V1811ZM1329.12 1811V1772.75H1330.58V1811ZM1334.95 1811V1768.5H1336.41V1811ZM1340.78 1811V1777H1342.24V1811ZM1346.61 1811V1785.5H1348.07V1811ZM1352.45 1811V1717.5H1353.9V1811ZM1358.28 1811V1777H1359.73V1811ZM1364.11 1811V1781.25H1365.57V1811ZM1369.94 1811V1755.75H1371.4V1811ZM1375.77 1811V1777H1377.23V1811ZM1381.6 1811V1777H1383.06V1811ZM1387.43 1811V1747.25H1388.89V1811ZM1393.27 1811V1709H1394.72V1811ZM1399.1 1811V1777H1400.55V1811ZM1404.93 1811V1696.25H1406.39V1811ZM1410.76 1811V1772.75H1412.22V1811ZM1416.59 1811V1772.75H1418.05V1811ZM1422.42 1811V1772.75H1423.88V1811ZM1428.25 1811V1781.25H1429.71V1811ZM1434.09 1811V1768.5H1435.54V1811ZM1439.92 1811V1772.75H1441.37V1811ZM1445.75 1811V1772.75H1447.21V1811ZM1451.58 1811V1781.25H1453.04V1811ZM1457.41 1811V1781.25H1458.87V1811ZM1463.24 1811V1747.25H1464.7V1811ZM1469.07 1811V1772.75H1470.53V1811ZM1474.91 1811V1777H1476.36V1811ZM1480.74 1811V1764.25H1482.19V1811ZM1486.57 1811V1777H1488.03V1811ZM1492.4 1811V1573H1493.86V1811ZM1498.23 1811V1777H1499.69V1811ZM1504.06 1811V1777H1505.52V1811ZM1509.89 1811V1738.75H1511.35V1811ZM1515.73 1811V1777H1517.18V1811ZM1521.56 1811V1777H1523.01V1811ZM1527.39 1811V1768.5H1528.85V1811ZM1533.22 1811V1781.25H1534.68V1811ZM1539.05 1811V1772.75H1540.51V1811ZM1544.88 1811V1772.75H1546.34V1811ZM1550.71 1811V1777H1552.17V1811ZM1556.55 1811V1772.75H1558V1811ZM1562.38 1811V1781.25H1563.83V1811ZM1568.21 1811V1751.5H1569.67V1811ZM1574.04 1811V1764.25H1575.5V1811ZM1579.87 1811V1764.25H1581.33V1811ZM1585.7 1811V1747.25H1587.16V1811ZM1591.53 1811V1777H1592.99V1811ZM1597.37 1811V1777H1598.82V1811ZM1603.2 1811V1743H1604.65V1811ZM1609.03 1811V1755.75H1610.49V1811ZM1614.86 1811V1777H1616.32V1811ZM1620.69 1811V1755.75H1622.15V1811ZM1626.52 1811V1772.75H1627.98V1811ZM1632.35 1811V1777H1633.81V1811ZM1638.19 1811V1751.5H1639.64V1811ZM1644.02 1811V1781.25H1645.47V1811ZM1649.85 1811V1772.75H1651.31V1811ZM1655.68 1811V1730.25H1657.14V1811ZM1661.51 1811V1768.5H1662.97V1811ZM1667.34 1811V1768.5H1668.8V1811ZM1673.17 1811V1764.25H1674.63V1811ZM1679.01 1811V1726H1680.46V1811ZM1684.84 1811V1781.25H1686.29V1811ZM1690.67 1811V1628.25H1692.13V1811ZM1696.5 1811V1721.75H1697.96V1811ZM1702.33 1811V1772.75H1703.79V1811ZM1708.16 1811V1772.75H1709.62V1811ZM1713.99 1811V1768.5H1715.45V1811ZM1719.83 1811V1760H1721.28V1811ZM1725.66 1811V1768.5H1727.11V1811ZM1731.49 1811V1777H1732.95V1811ZM1737.32 1811V1768.5H1738.78V1811ZM1743.15 1811V1768.5H1744.61V1811ZM1748.98 1811V1768.5H1750.44V1811ZM1754.81 1811V1760H1756.27V1811ZM1760.65 1811V1738.75H1762.1V1811ZM1766.48 1811V1781.25H1767.93V1811ZM1772.31 1811V1760H1773.77V1811ZM1778.14 1811V1675H1779.6V1811ZM1783.97 1811V1768.5H1785.43V1811ZM1789.8 1811V1777H1791.26V1811ZM1795.63 1811V1772.75H1797.09V1811ZM1801.47 1811V1777H1802.92V1811ZM1807.3 1811V1577.25H1808.75V1811ZM1813.13 1811V1781.25H1814.59V1811ZM1818.96 1811V1777H1820.42V1811ZM1824.79 1811V1760H1826.25V1811ZM1830.62 1811V1768.5H1832.08V1811ZM1836.45 1811V1772.75H1837.91V1811ZM1842.29 1811V1768.5H1843.74V1811ZM1848.12 1811V1743H1849.57V1811ZM1853.95 1811V1747.25H1855.41V1811ZM1859.78 1811V1781.25H1861.24V1811ZM1865.61 1811V1772.75H1867.07V1811ZM1871.44 1811V1777H1872.9V1811ZM1877.27 1811V1772.75H1878.73V1811ZM1883.11 1811V1772.75H1884.56V1811ZM1888.94 1811V1764.25H1890.39V1811ZM1894.77 1811V1768.5H1896.23V1811ZM1900.6 1811V1768.5H1902.06V1811ZM1906.43 1811V1764.25H1907.89V1811ZM1912.26 1811V1781.25H1913.72V1811ZM1918.09 1811V1777H1919.55V1811ZM1923.93 1811V1713.25H1925.38V1811ZM1929.76 1811V1772.75H1931.21V1811ZM1935.59 1811V1772.75H1937.05V1811ZM1941.42 1811V1772.75H1942.88V1811ZM1947.25 1811V1781.25H1948.71V1811ZM1953.08 1811V1781.25H1954.54V1811ZM1958.91 1811V1755.75H1960.37V1811ZM1964.75 1811V1777H1966.2V1811ZM1970.58 1811V1768.5H1972.03V1811ZM1976.41 1811V1777H1977.87V1811ZM1982.24 1811V1781.25H1983.7V1811ZM1988.07 1811V1755.75H1989.53V1811ZM1993.9 1811V1764.25H1995.36V1811ZM1999.73 1811V1768.5H2001.19V1811ZM2005.57 1811V1751.5H2007.02V1811ZM2011.4 1811V1772.75H2012.85V1811ZM2017.23 1811V1764.25H2018.69V1811ZM2023.06 1811V1777H2024.52V1811ZM2028.89 1811V1772.75H2030.35V1811ZM2034.72 1811V1777H2036.18V1811ZM2040.55 1811V1764.25H2042.01V1811ZM2046.39 1811V1781.25H2047.84V1811ZM2052.22 1811V1768.5H2053.67V1811ZM2058.05 1811V1777H2059.51V1811ZM2063.88 1811V1777H2065.34V1811ZM2069.71 1811V1768.5H2071.17V1811ZM2075.54 1811V1772.75H2077V1811ZM2081.37 1811V1777H2082.83V1811ZM2087.21 1811V1768.5H2088.66V1811ZM2093.04 1811V1768.5H2094.49V1811ZM2098.87 1811V1781.25H2100.33V1811ZM2104.7 1811V1781.25H2106.16V1811ZM2110.53 1811V1755.75H2111.99V1811ZM2116.36 1811V1768.5H2117.82V1811ZM2122.19 1811V1726H2123.65V1811ZM2128.03 1811V1721.75H2129.48V1811ZM2133.86 1811V1764.25H2135.31V1811ZM2139.69 1811V1777H2141.15V1811ZM2145.52 1811V1772.75H2146.98V1811ZM2151.35 1811V1760H2152.81V1811ZM2157.18 1811V1768.5H2158.64V1811ZM2163.01 1811V1777H2164.47V1811ZM2168.85 1811V1768.5H2170.3V1811ZM2174.68 1811V1777H2176.13V1811ZM2180.51 1811V1785.5H2181.97V1811ZM2186.34 1811V1760H2187.8V1811ZM2192.17 1811V1781.25H2193.63V1811ZM2198 1811V1772.75H2199.46V1811ZM2203.83 1811V1772.75H2205.29V1811ZM2209.67 1811V1751.5H2211.12V1811ZM2215.5 1811V1734.5H2216.95V1811ZM2221.33 1811V1781.25H2222.79V1811ZM2227.16 1811V1781.25H2228.62V1811ZM2232.99 1811V1777H2234.45V1811ZM2238.82 1811V1772.75H2240.28V1811ZM2244.65 1811V1768.5H2246.11V1811ZM2250.49 1811V1764.25H2251.94V1811ZM2256.32 1811V1704.75H2257.77V1811ZM2262.15 1811V1772.75H2263.61V1811ZM2267.98 1811V1755.75H2269.44V1811ZM2273.81 1811V1777H2275.27V1811ZM2279.64 1811V1760H2281.1V1811ZM2285.47 1811V1777H2286.93V1811ZM2291.31 1811V1781.25H2292.76V1811ZM2297.14 1811V1721.75H2298.59V1811ZM2302.97 1811V1781.25H2304.43V1811ZM2308.8 1811V1781.25H2310.26V1811ZM2314.63 1811V1781.25H2316.09V1811ZM2320.46 1811V1781.25H2321.92V1811ZM2326.29 1811V1781.25H2327.75V1811ZM2332.13 1811V1772.75H2333.58V1811ZM2337.96 1811V1768.5H2339.41V1811ZM2343.79 1811V1764.25H2345.25V1811ZM2349.62 1811V1768.5H2351.08V1811ZM2355.45 1811V1781.25H2356.91V1811ZM2361.28 1811V1755.75H2362.74V1811ZM2367.11 1811V1772.75H2368.57V1811ZM2372.95 1811V1772.75H2374.4V1811ZM2378.78 1811V1772.75H2380.23V1811ZM2384.61 1811V1772.75H2386.07V1811ZM2390.44 1811V1777H2391.9V1811ZM2396.27 1811V1768.5H2397.73V1811ZM2402.1 1811V1781.25H2403.56V1811ZM2407.93 1811V1734.5H2409.39V1811ZM2413.77 1811V1781.25H2415.22V1811ZM2419.6 1811V1777H2421.05V1811ZM2425.43 1811V1755.75H2426.89V1811ZM2431.26 1811V1772.75H2432.72V1811ZM2437.09 1811V1772.75H2438.55V1811Z"/><path shape-rendering="crispEdges" fill="#D95319" d="M362.68 1811V1730.25H364.13V1811ZM368.51 1811V1717.5H369.97V1811ZM374.34 1811V1738.75H375.8V1811ZM380.17 1811V1764.25H381.63V1811ZM386 1811V1764.25H387.46V1811ZM391.83 1811V1760H393.29V1811ZM397.67 1811V1751.5H399.12V1811ZM403.5 1811V1687.75H404.95V1811ZM409.33 1811V1747.25H410.79V1811ZM415.16 1811V1777H416.62V1811ZM420.99 1811V1692H422.45V1811ZM426.82 1811V1662.25H428.28V1811ZM432.65 1811V1768.5H434.11V1811ZM438.49 1811V1675H439.94V1811ZM444.32 1811V1747.25H445.77V1811ZM450.15 1811V1777H451.61V1811ZM455.98 1811V1760H457.44V1811ZM461.81 1811V1670.75H463.27V1811ZM467.64 1811V1772.75H469.1V1811ZM473.47 1811V1687.75H474.93V1811ZM479.31 1811V1760H480.76V1811ZM485.14 1811V1777H486.59V1811ZM490.97 1811V1768.5H492.43V1811ZM496.8 1811V1772.75H498.26V1811ZM502.63 1811V1751.5H504.09V1811ZM508.46 1811V1743H509.92V1811ZM514.29 1811V1768.5H515.75V1811ZM520.13 1811V1768.5H521.58V1811ZM525.96 1811V1726H527.41V1811ZM531.79 1811V1734.5H533.25V1811ZM537.62 1811V1653.75H539.08V1811ZM543.45 1811V1734.5H544.91V1811ZM549.28 1811V1772.75H550.74V1811ZM555.11 1811V1734.5H556.57V1811ZM560.95 1811V1700.5H562.4V1811ZM566.78 1811V1768.5H568.23V1811ZM572.61 1811V1726H574.07V1811ZM578.44 1811V1755.75H579.9V1811ZM584.27 1811V1755.75H585.73V1811ZM590.1 1811V1721.75H591.56V1811ZM595.93 1811V1747.25H597.39V1811ZM601.77 1811V1781.25H603.22V1811ZM607.6 1811V1768.5H609.05V1811ZM613.43 1811V1768.5H614.89V1811ZM619.26 1811V1760H620.72V1811ZM625.09 1811V1683.5H626.55V1811ZM630.92 1811V1768.5H632.38V1811ZM636.75 1811V1772.75H638.21V1811ZM642.59 1811V1747.25H644.04V1811ZM648.42 1811V1743H649.87V1811ZM654.25 1811V1755.75H655.71V1811ZM660.08 1811V1717.5H661.54V1811ZM665.91 1811V1772.75H667.37V1811ZM671.74 1811V1734.5H673.2V1811ZM677.57 1811V1734.5H679.03V1811ZM683.41 1811V1768.5H684.86V1811ZM689.24 1811V1772.75H690.69V1811ZM695.07 1811V1755.75H696.53V1811ZM700.9 1811V1734.5H702.36V1811ZM706.73 1811V1679.25H708.19V1811ZM712.56 1811V1772.75H714.02V1811ZM718.39 1811V1683.5H719.85V1811ZM724.23 1811V1713.25H725.68V1811ZM730.06 1811V1764.25H731.51V1811ZM735.89 1811V1747.25H737.35V1811ZM741.72 1811V1734.5H743.18V1811ZM747.55 1811V1751.5H749.01V1811ZM753.38 1811V1755.75H754.84V1811ZM759.21 1811V1687.75H760.67V1811ZM765.05 1811V1717.5H766.5V1811ZM770.88 1811V1768.5H772.33V1811ZM776.71 1811V1764.25H778.17V1811ZM782.54 1811V1743H784V1811ZM788.37 1811V1777H789.83V1811ZM794.2 1811V1777H795.66V1811ZM800.03 1811V1781.25H801.49V1811ZM805.87 1811V1751.5H807.32V1811ZM811.7 1811V1755.75H813.15V1811ZM817.53 1811V1760H818.99V1811ZM823.36 1811V1777H824.82V1811ZM829.19 1811V1734.5H830.65V1811ZM835.02 1811V1768.5H836.48V1811ZM840.85 1811V1768.5H842.31V1811ZM846.69 1811V1760H848.14V1811ZM852.52 1811V1768.5H853.97V1811ZM858.35 1811V1768.5H859.81V1811ZM864.18 1811V1730.25H865.64V1811ZM870.01 1811V1768.5H871.47V1811ZM875.84 1811V1781.25H877.3V1811ZM881.67 1811V1747.25H883.13V1811ZM887.51 1811V1772.75H888.96V1811ZM893.34 1811V1726H894.79V1811ZM899.17 1811V1734.5H900.63V1811ZM905 1811V1777H906.46V1811ZM910.83 1811V1751.5H912.29V1811ZM916.66 1811V1768.5H918.12V1811ZM922.49 1811V1747.25H923.95V1811ZM928.33 1811V1777H929.78V1811ZM934.16 1811V1751.5H935.61V1811ZM939.99 1811V1764.25H941.45V1811ZM945.82 1811V1755.75H947.28V1811ZM951.65 1811V1738.75H953.11V1811ZM957.48 1811V1696.25H958.94V1811ZM963.31 1811V1700.5H964.77V1811ZM969.15 1811V1679.25H970.6V1811ZM974.98 1811V1764.25H976.43V1811ZM980.81 1811V1726H982.27V1811ZM986.64 1811V1649.5H988.1V1811ZM992.47 1811V1768.5H993.93V1811ZM998.3 1811V1760H999.76V1811ZM1004.13 1811V1768.5H1005.59V1811ZM1009.97 1811V1764.25H1011.42V1811ZM1015.8 1811V1721.75H1017.25V1811ZM1021.63 1811V1743H1023.09V1811ZM1027.46 1811V1709H1028.92V1811ZM1033.29 1811V1743H1034.75V1811ZM1039.12 1811V1755.75H1040.58V1811ZM1044.95 1811V1760H1046.41V1811ZM1050.79 1811V1743H1052.24V1811ZM1056.62 1811V1768.5H1058.07V1811ZM1062.45 1811V1738.75H1063.91V1811ZM1068.28 1811V1764.25H1069.74V1811ZM1074.11 1811V1777H1075.57V1811ZM1079.94 1811V1755.75H1081.4V1811ZM1085.77 1811V1777H1087.23V1811ZM1091.61 1811V1768.5H1093.06V1811ZM1097.44 1811V1777H1098.89V1811ZM1103.27 1811V1747.25H1104.73V1811ZM1109.1 1811V1730.25H1110.56V1811ZM1114.93 1811V1768.5H1116.39V1811ZM1120.76 1811V1764.25H1122.22V1811ZM1126.59 1811V1768.5H1128.05V1811ZM1132.43 1811V1658H1133.88V1811ZM1138.26 1811V1662.25H1139.71V1811ZM1144.09 1811V1641H1145.55V1811ZM1149.92 1811V1696.25H1151.38V1811ZM1155.75 1811V1772.75H1157.21V1811ZM1161.58 1811V1755.75H1163.04V1811ZM1167.41 1811V1768.5H1168.87V1811ZM1173.25 1811V1747.25H1174.7V1811ZM1179.08 1811V1760H1180.53V1811ZM1184.91 1811V1772.75H1186.37V1811ZM1190.74 1811V1683.5H1192.2V1811ZM1196.57 1811V1772.75H1198.03V1811ZM1202.4 1811V1772.75H1203.86V1811ZM1208.23 1811V1738.75H1209.69V1811ZM1214.07 1811V1768.5H1215.52V1811ZM1219.9 1811V1768.5H1221.35V1811ZM1225.73 1811V1738.75H1227.19V1811ZM1231.56 1811V1670.75H1233.02V1811ZM1237.39 1811V1717.5H1238.85V1811ZM1243.22 1811V1768.5H1244.68V1811ZM1249.05 1811V1772.75H1250.51V1811ZM1254.89 1811V1755.75H1256.34V1811ZM1260.72 1811V1730.25H1262.17V1811ZM1266.55 1811V1738.75H1268.01V1811ZM1272.38 1811V1738.75H1273.84V1811ZM1278.21 1811V1687.75H1279.67V1811ZM1284.04 1811V1777H1285.5V1811ZM1289.87 1811V1781.25H1291.33V1811ZM1295.71 1811V1768.5H1297.16V1811ZM1301.54 1811V1768.5H1302.99V1811ZM1307.37 1811V1764.25H1308.83V1811ZM1313.2 1811V1764.25H1314.66V1811ZM1319.03 1811V1751.5H1320.49V1811ZM1324.86 1811V1772.75H1326.32V1811ZM1330.69 1811V1772.75H1332.15V1811ZM1336.53 1811V1777H1337.98V1811ZM1342.36 1811V1777H1343.81V1811ZM1348.19 1811V1653.75H1349.65V1811ZM1354.02 1811V1670.75H1355.48V1811ZM1359.85 1811V1777H1361.31V1811ZM1365.68 1811V1738.75H1367.14V1811ZM1371.51 1811V1743H1372.97V1811ZM1377.35 1811V1734.5H1378.8V1811ZM1383.18 1811V1675H1384.63V1811ZM1389.01 1811V1615.5H1390.47V1811ZM1394.84 1811V1760H1396.3V1811ZM1400.67 1811V1653.75H1402.13V1811ZM1406.5 1811V1755.75H1407.96V1811ZM1412.33 1811V1768.5H1413.79V1811ZM1418.17 1811V1772.75H1419.62V1811ZM1424 1811V1777H1425.45V1811ZM1429.83 1811V1709H1431.29V1811ZM1435.66 1811V1781.25H1437.12V1811ZM1441.49 1811V1734.5H1442.95V1811ZM1447.32 1811V1777H1448.78V1811ZM1453.15 1811V1777H1454.61V1811ZM1458.99 1811V1743H1460.44V1811ZM1464.82 1811V1764.25H1466.27V1811ZM1470.65 1811V1764.25H1472.11V1811ZM1476.48 1811V1772.75H1477.94V1811ZM1482.31 1811V1772.75H1483.77V1811ZM1488.14 1811V1683.5H1489.6V1811ZM1493.97 1811V1772.75H1495.43V1811ZM1499.81 1811V1772.75H1501.26V1811ZM1505.64 1811V1755.75H1507.09V1811ZM1511.47 1811V1772.75H1512.93V1811ZM1517.3 1811V1764.25H1518.76V1811ZM1523.13 1811V1768.5H1524.59V1811ZM1528.96 1811V1772.75H1530.42V1811ZM1534.79 1811V1768.5H1536.25V1811ZM1540.63 1811V1768.5H1542.08V1811ZM1546.46 1811V1760H1547.91V1811ZM1552.29 1811V1772.75H1553.75V1811ZM1558.12 1811V1768.5H1559.58V1811ZM1563.95 1811V1747.25H1565.41V1811ZM1575.61 1811V1662.25H1577.07V1811ZM1581.45 1811V1760H1582.9V1811ZM1587.28 1811V1772.75H1588.73V1811ZM1593.11 1811V1777H1594.57V1811ZM1598.94 1811V1683.5H1600.4V1811ZM1604.77 1811V1738.75H1606.23V1811ZM1610.6 1811V1772.75H1612.06V1811ZM1616.43 1811V1709H1617.89V1811ZM1622.27 1811V1743H1623.72V1811ZM1628.1 1811V1764.25H1629.55V1811ZM1633.93 1811V1675H1635.39V1811ZM1639.76 1811V1755.75H1641.22V1811ZM1645.59 1811V1772.75H1647.05V1811ZM1651.42 1811V1730.25H1652.88V1811ZM1657.25 1811V1700.5H1658.71V1811ZM1663.09 1811V1717.5H1664.54V1811ZM1668.92 1811V1730.25H1670.37V1811ZM1674.75 1811V1721.75H1676.21V1811ZM1680.58 1811V1777H1682.04V1811ZM1686.41 1811V1653.75H1687.87V1811ZM1692.24 1811V1760H1693.7V1811ZM1698.07 1811V1751.5H1699.53V1811ZM1703.91 1811V1751.5H1705.36V1811ZM1709.74 1811V1777H1711.19V1811ZM1715.57 1811V1700.5H1717.03V1811ZM1721.4 1811V1781.25H1722.86V1811ZM1727.23 1811V1751.5H1728.69V1811ZM1733.06 1811V1764.25H1734.52V1811ZM1738.89 1811V1755.75H1740.35V1811ZM1744.73 1811V1743H1746.18V1811ZM1750.56 1811V1760H1752.01V1811ZM1756.39 1811V1738.75H1757.85V1811ZM1762.22 1811V1721.75H1763.68V1811ZM1768.05 1811V1768.5H1769.51V1811ZM1773.88 1811V1755.75H1775.34V1811ZM1785.55 1811V1772.75H1787V1811ZM1791.38 1811V1772.75H1792.83V1811ZM1797.21 1811V1760H1798.67V1811ZM1803.04 1811V1726H1804.5V1811ZM1808.87 1811V1781.25H1810.33V1811ZM1814.7 1811V1751.5H1816.16V1811ZM1820.53 1811V1747.25H1821.99V1811ZM1826.37 1811V1738.75H1827.82V1811ZM1832.2 1811V1772.75H1833.65V1811ZM1838.03 1811V1679.25H1839.49V1811ZM1843.86 1811V1755.75H1845.32V1811ZM1849.69 1811V1755.75H1851.15V1811ZM1855.52 1811V1777H1856.98V1811ZM1861.35 1811V1738.75H1862.81V1811ZM1867.19 1811V1772.75H1868.64V1811ZM1873.02 1811V1772.75H1874.47V1811ZM1878.85 1811V1751.5H1880.31V1811ZM1884.68 1811V1751.5H1886.14V1811ZM1890.51 1811V1777H1891.97V1811ZM1896.34 1811V1760H1897.8V1811ZM1902.17 1811V1768.5H1903.63V1811ZM1908.01 1811V1777H1909.46V1811ZM1913.84 1811V1747.25H1915.29V1811ZM1919.67 1811V1760H1921.13V1811ZM1925.5 1811V1751.5H1926.96V1811ZM1931.33 1811V1768.5H1932.79V1811ZM1937.16 1811V1675H1938.62V1811ZM1942.99 1811V1777H1944.45V1811ZM1948.83 1811V1768.5H1950.28V1811ZM1954.66 1811V1726H1956.11V1811ZM1960.49 1811V1772.75H1961.95V1811ZM1966.32 1811V1760H1967.78V1811ZM1972.15 1811V1772.75H1973.61V1811ZM1977.98 1811V1755.75H1979.44V1811ZM1983.81 1811V1709H1985.27V1811ZM1989.65 1811V1768.5H1991.1V1811ZM1995.48 1811V1764.25H1996.93V1811ZM2001.31 1811V1713.25H2002.77V1811ZM2007.14 1811V1772.75H2008.6V1811ZM2012.97 1811V1692H2014.43V1811ZM2018.8 1811V1755.75H2020.26V1811ZM2024.63 1811V1768.5H2026.09V1811ZM2030.47 1811V1772.75H2031.92V1811ZM2036.3 1811V1760H2037.75V1811ZM2042.13 1811V1768.5H2043.59V1811ZM2047.96 1811V1760H2049.42V1811ZM2053.79 1811V1747.25H2055.25V1811ZM2059.62 1811V1768.5H2061.08V1811ZM2065.45 1811V1764.25H2066.91V1811ZM2071.29 1811V1768.5H2072.74V1811ZM2077.12 1811V1751.5H2078.57V1811ZM2082.95 1811V1772.75H2084.41V1811ZM2088.78 1811V1636.75H2090.24V1811ZM2094.61 1811V1764.25H2096.07V1811ZM2100.44 1811V1768.5H2101.9V1811ZM2106.27 1811V1755.75H2107.73V1811ZM2112.11 1811V1772.75H2113.56V1811ZM2117.94 1811V1734.5H2119.39V1811ZM2123.77 1811V1696.25H2125.23V1811ZM2129.6 1811V1760H2131.06V1811ZM2135.43 1811V1764.25H2136.89V1811ZM2141.26 1811V1772.75H2142.72V1811ZM2147.09 1811V1760H2148.55V1811ZM2152.93 1811V1764.25H2154.38V1811ZM2158.76 1811V1755.75H2160.21V1811ZM2164.59 1811V1768.5H2166.05V1811ZM2170.42 1811V1755.75H2171.88V1811ZM2176.25 1811V1751.5H2177.71V1811ZM2182.08 1811V1760H2183.54V1811ZM2187.91 1811V1700.5H2189.37V1811ZM2193.75 1811V1772.75H2195.2V1811ZM2199.58 1811V1772.75H2201.03V1811ZM2205.41 1811V1747.25H2206.87V1811ZM2211.24 1811V1734.5H2212.7V1811ZM2217.07 1811V1781.25H2218.53V1811ZM2222.9 1811V1738.75H2224.36V1811ZM2228.73 1811V1755.75H2230.19V1811ZM2234.57 1811V1764.25H2236.02V1811ZM2240.4 1811V1730.25H2241.85V1811ZM2246.23 1811V1743H2247.69V1811ZM2252.06 1811V1704.75H2253.52V1811ZM2257.89 1811V1755.75H2259.35V1811ZM2263.72 1811V1751.5H2265.18V1811ZM2269.55 1811V1764.25H2271.01V1811ZM2275.39 1811V1764.25H2276.84V1811ZM2281.22 1811V1768.5H2282.67V1811ZM2287.05 1811V1772.75H2288.51V1811ZM2292.88 1811V1743H2294.34V1811ZM2298.71 1811V1781.25H2300.17V1811ZM2304.54 1811V1772.75H2306V1811ZM2310.37 1811V1772.75H2311.83V1811ZM2316.21 1811V1768.5H2317.66V1811ZM2322.04 1811V1781.25H2323.49V1811ZM2327.87 1811V1755.75H2329.33V1811ZM2333.7 1811V1717.5H2335.16V1811ZM2339.53 1811V1747.25H2340.99V1811ZM2345.36 1811V1755.75H2346.82V1811ZM2351.19 1811V1777H2352.65V1811ZM2357.03 1811V1768.5H2358.48V1811ZM2362.86 1811V1738.75H2364.31V1811ZM2368.69 1811V1760H2370.15V1811ZM2374.52 1811V1764.25H2375.98V1811ZM2380.35 1811V1772.75H2381.81V1811ZM2386.18 1811V1704.75H2387.64V1811ZM2392.01 1811V1751.5H2393.47V1811ZM2397.85 1811V1772.75H2399.3V1811ZM2403.68 1811V1764.25H2405.13V1811ZM2409.51 1811V1764.25H2410.97V1811ZM2415.34 1811V1764.25H2416.8V1811ZM2421.17 1811V1726H2422.63V1811ZM2427 1811V1768.5H2428.46V1811ZM2432.83 1811V1772.75H2434.29V1811ZM2438.67 1811V1700.5H2440.12V1811Z"/></g><path shape-rendering="crispEdges" stroke="#0d0d0d" stroke-width="2" fill="none" d="M356 1811v-21M356 1386V1407M647.57 1811v-21M647.57 1386V1407M939.14 1811v-21M939.14 1386V1407M1230.71 1811v-21M1230.71 1386V1407M1522.29 1811v-21M1522.29 1386V1407M1813.86 1811v-21M1813.86 1386V1407M2105.43 1811v-21M2105.43 1386V1407M2397 1811v-21M2397 1386V1407M351 1726h21M2443 1726h-21M351 1641h21M2443 1641h-21M351 1556h21M2443 1556h-21M351 1471h21M2443 1471h-21"/><rect shape-rendering="crispEdges" x="351" y="1386" width="2092" height="425" fill="none" stroke="#0d0d0d" stroke-width="2"/><rect shape-rendering="crispEdges" x="350" y="1809.7" width="2094" height="2.6" fill="#1c1c1c"/><text x="356.75" y="1851.3" font-size="33.33" text-anchor="middle">0</text><text x="648.16" y="1851.3" font-size="33.33" text-anchor="middle">50</text><text x="939.58" y="1851.3" font-size="33.33" text-anchor="middle">100</text><text x="1230.99" y="1851.3" font-size="33.33" text-anchor="middle">150</text><text x="1522.41" y="1851.3" font-size="33.33" text-anchor="middle">200</text><text x="1813.82" y="1851.3" font-size="33.33" text-anchor="middle">250</text><text x="2105.24" y="1851.3" font-size="33.33" text-anchor="middle">300</text><text x="2396.65" y="1851.3" font-size="33.33" text-anchor="middle">350</text><text x="343" y="1824.9" font-size="33.33" text-anchor="end">0</text><text x="343" y="1739.74" font-size="33.33" text-anchor="end">2</text><text x="343" y="1654.58" font-size="33.33" text-anchor="end">4</text><text x="343" y="1569.42" font-size="33.33" text-anchor="end">6</text><text x="343" y="1484.26" font-size="33.33" text-anchor="end">8</text><text x="343" y="1399.1" font-size="33.33" text-anchor="end">10</text><text x="1398" y="1375.6" font-size="36.67" font-weight="bold" text-anchor="middle" fill="#000" style="fill:#000">8474: GPS HDOP</text><text transform="translate(288.3 1599.5) rotate(-90)" font-size="36.67" text-anchor="middle">HDOP</text></g><g><path shape-rendering="crispEdges" stroke="#dcdcdc" stroke-width="2" fill="none" d="M356 1976V2402M647.57 1976V2402M939.14 1976V2402M1230.71 1976V2402M1522.29 1976V2402M1813.86 1976V2402M2105.43 1976V2402M2397 1976V2402M351 2317H2443M351 2232H2443M351 2147H2443M351 2062H2443"/><g clip-path="url(#c3)"><path shape-rendering="crispEdges" fill="#0072BD" d="M355.27 2402V2079H356.73V2402ZM361.1 2402V2053.5H362.56V2402ZM366.93 2402V2053.5H368.39V2402ZM372.77 2402V2045H374.22V2402ZM378.6 2402V2062H380.05V2402ZM384.43 2402V2045H385.89V2402ZM390.26 2402V2079H391.72V2402ZM396.09 2402V2079H397.55V2402ZM401.92 2402V2087.5H403.38V2402ZM407.75 2402V2036.5H409.21V2402ZM413.59 2402V2070.5H415.04V2402ZM419.42 2402V2070.5H420.87V2402ZM425.25 2402V2062H426.71V2402ZM431.08 2402V2070.5H432.54V2402ZM436.91 2402V2079H438.37V2402ZM442.74 2402V2070.5H444.2V2402ZM448.57 2402V2062H450.03V2402ZM454.41 2402V2062H455.86V2402ZM460.24 2402V2053.5H461.69V2402ZM466.07 2402V2087.5H467.53V2402ZM471.9 2402V2070.5H473.36V2402ZM477.73 2402V2070.5H479.19V2402ZM483.56 2402V2079H485.02V2402ZM489.39 2402V2062H490.85V2402ZM495.23 2402V2087.5H496.68V2402ZM501.06 2402V2087.5H502.51V2402ZM506.89 2402V2070.5H508.35V2402ZM512.72 2402V2053.5H514.18V2402ZM518.55 2402V2070.5H520.01V2402ZM524.38 2402V2062H525.84V2402ZM530.21 2402V2062H531.67V2402ZM536.05 2402V2070.5H537.5V2402ZM541.88 2402V2062H543.33V2402ZM547.71 2402V2036.5H549.17V2402ZM553.54 2402V2062H555V2402ZM559.37 2402V2062H560.83V2402ZM565.2 2402V2062H566.66V2402ZM571.03 2402V2087.5H572.49V2402ZM576.87 2402V2079H578.32V2402ZM582.7 2402V2070.5H584.15V2402ZM588.53 2402V2087.5H589.99V2402ZM594.36 2402V2087.5H595.82V2402ZM600.19 2402V2096H601.65V2402ZM606.02 2402V2053.5H607.48V2402ZM611.85 2402V2053.5H613.31V2402ZM617.69 2402V2070.5H619.14V2402ZM623.52 2402V2079H624.97V2402ZM629.35 2402V2070.5H630.81V2402ZM635.18 2402V2087.5H636.64V2402ZM641.01 2402V2087.5H642.47V2402ZM646.84 2402V2053.5H648.3V2402ZM652.67 2402V2079H654.13V2402ZM658.51 2402V2087.5H659.96V2402ZM664.34 2402V2062H665.79V2402ZM670.17 2402V2070.5H671.63V2402ZM676 2402V2079H677.46V2402ZM681.83 2402V2053.5H683.29V2402ZM687.66 2402V2079H689.12V2402ZM693.49 2402V2053.5H694.95V2402ZM699.33 2402V2062H700.78V2402ZM705.16 2402V2070.5H706.61V2402ZM710.99 2402V2045H712.45V2402ZM716.82 2402V2070.5H718.28V2402ZM722.65 2402V2053.5H724.11V2402ZM728.48 2402V2036.5H729.94V2402ZM734.31 2402V2062H735.77V2402ZM740.15 2402V2053.5H741.6V2402ZM745.98 2402V2053.5H747.43V2402ZM751.81 2402V2070.5H753.27V2402ZM757.64 2402V2079H759.1V2402ZM763.47 2402V2062H764.93V2402ZM769.3 2402V2062H770.76V2402ZM775.13 2402V2053.5H776.59V2402ZM780.97 2402V2053.5H782.42V2402ZM786.8 2402V2062H788.25V2402ZM792.63 2402V2062H794.09V2402ZM798.46 2402V2070.5H799.92V2402ZM804.29 2402V2070.5H805.75V2402ZM810.12 2402V2070.5H811.58V2402ZM815.95 2402V2079H817.41V2402ZM821.79 2402V2070.5H823.24V2402ZM827.62 2402V2062H829.07V2402ZM833.45 2402V2070.5H834.91V2402ZM839.28 2402V2079H840.74V2402ZM845.11 2402V2079H846.57V2402ZM850.94 2402V2070.5H852.4V2402ZM856.77 2402V2053.5H858.23V2402ZM862.61 2402V2070.5H864.06V2402ZM868.44 2402V2070.5H869.89V2402ZM874.27 2402V2087.5H875.73V2402ZM880.1 2402V2062H881.56V2402ZM885.93 2402V2062H887.39V2402ZM891.76 2402V2062H893.22V2402ZM897.59 2402V2053.5H899.05V2402ZM903.43 2402V2053.5H904.88V2402ZM909.26 2402V2070.5H910.71V2402ZM915.09 2402V2079H916.55V2402ZM920.92 2402V2070.5H922.38V2402ZM926.75 2402V2096H928.21V2402ZM932.58 2402V2070.5H934.04V2402ZM938.41 2402V2079H939.87V2402ZM944.25 2402V2087.5H945.7V2402ZM950.08 2402V2070.5H951.53V2402ZM955.91 2402V2096H957.37V2402ZM961.74 2402V2079H963.2V2402ZM967.57 2402V2062H969.03V2402ZM973.4 2402V2062H974.86V2402ZM979.23 2402V2062H980.69V2402ZM985.07 2402V2036.5H986.52V2402ZM990.9 2402V2053.5H992.35V2402ZM996.73 2402V2079H998.19V2402ZM1002.56 2402V2070.5H1004.02V2402ZM1008.39 2402V2062H1009.85V2402ZM1014.22 2402V2070.5H1015.68V2402ZM1020.05 2402V2070.5H1021.51V2402ZM1025.89 2402V2070.5H1027.34V2402ZM1031.72 2402V2096H1033.17V2402ZM1037.55 2402V2096H1039.01V2402ZM1043.38 2402V2104.5H1044.84V2402ZM1049.21 2402V2070.5H1050.67V2402ZM1055.04 2402V2070.5H1056.5V2402ZM1060.87 2402V2062H1062.33V2402ZM1066.71 2402V2079H1068.16V2402ZM1072.54 2402V2079H1073.99V2402ZM1078.37 2402V2070.5H1079.83V2402ZM1084.2 2402V2062H1085.66V2402ZM1090.03 2402V2062H1091.49V2402ZM1095.86 2402V2070.5H1097.32V2402ZM1101.69 2402V2070.5H1103.15V2402ZM1107.53 2402V2045H1108.98V2402ZM1113.36 2402V2070.5H1114.81V2402ZM1119.19 2402V2087.5H1120.65V2402ZM1125.02 2402V2104.5H1126.48V2402ZM1130.85 2402V2079H1132.31V2402ZM1136.68 2402V2070.5H1138.14V2402ZM1142.51 2402V2070.5H1143.97V2402ZM1148.35 2402V2062H1149.8V2402ZM1154.18 2402V2070.5H1155.63V2402ZM1160.01 2402V2087.5H1161.47V2402ZM1165.84 2402V2045H1167.3V2402ZM1171.67 2402V2079H1173.13V2402ZM1177.5 2402V2070.5H1178.96V2402ZM1183.33 2402V2070.5H1184.79V2402ZM1189.17 2402V2062H1190.62V2402ZM1195 2402V2053.5H1196.45V2402ZM1200.83 2402V2070.5H1202.29V2402ZM1206.66 2402V2087.5H1208.12V2402ZM1212.49 2402V2079H1213.95V2402ZM1218.32 2402V2079H1219.78V2402ZM1224.15 2402V2079H1225.61V2402ZM1229.99 2402V2087.5H1231.44V2402ZM1235.82 2402V2036.5H1237.27V2402ZM1241.65 2402V2070.5H1243.11V2402ZM1247.48 2402V2096H1248.94V2402ZM1253.31 2402V2079H1254.77V2402ZM1259.14 2402V2104.5H1260.6V2402ZM1264.97 2402V2079H1266.43V2402ZM1270.81 2402V2070.5H1272.26V2402ZM1276.64 2402V2070.5H1278.09V2402ZM1282.47 2402V2070.5H1283.93V2402ZM1288.3 2402V2070.5H1289.76V2402ZM1294.13 2402V2070.5H1295.59V2402ZM1299.96 2402V2079H1301.42V2402ZM1305.79 2402V2062H1307.25V2402ZM1311.63 2402V2070.5H1313.08V2402ZM1317.46 2402V2096H1318.91V2402ZM1323.29 2402V2053.5H1324.75V2402ZM1329.12 2402V2096H1330.58V2402ZM1334.95 2402V2096H1336.41V2402ZM1340.78 2402V2053.5H1342.24V2402ZM1346.61 2402V2079H1348.07V2402ZM1352.45 2402V2087.5H1353.9V2402ZM1358.28 2402V2070.5H1359.73V2402ZM1364.11 2402V2070.5H1365.57V2402ZM1369.94 2402V2045H1371.4V2402ZM1375.77 2402V2070.5H1377.23V2402ZM1381.6 2402V2087.5H1383.06V2402ZM1387.43 2402V2096H1388.89V2402ZM1393.27 2402V2087.5H1394.72V2402ZM1399.1 2402V2087.5H1400.55V2402ZM1410.76 2402V2053.5H1412.22V2402ZM1416.59 2402V2079H1418.05V2402ZM1422.42 2402V2087.5H1423.88V2402ZM1428.25 2402V2079H1429.71V2402ZM1434.09 2402V2036.5H1435.54V2402ZM1439.92 2402V2096H1441.37V2402ZM1445.75 2402V2096H1447.21V2402ZM1451.58 2402V2079H1453.04V2402ZM1457.41 2402V2070.5H1458.87V2402ZM1463.24 2402V2079H1464.7V2402ZM1469.07 2402V2079H1470.53V2402ZM1474.91 2402V2096H1476.36V2402ZM1480.74 2402V2087.5H1482.19V2402ZM1486.57 2402V2087.5H1488.03V2402ZM1492.4 2402V2079H1493.86V2402ZM1498.23 2402V2070.5H1499.69V2402ZM1504.06 2402V2062H1505.52V2402ZM1509.89 2402V2096H1511.35V2402ZM1515.73 2402V2070.5H1517.18V2402ZM1521.56 2402V2104.5H1523.01V2402ZM1527.39 2402V2070.5H1528.85V2402ZM1533.22 2402V2079H1534.68V2402ZM1539.05 2402V2079H1540.51V2402ZM1544.88 2402V2070.5H1546.34V2402ZM1550.71 2402V2087.5H1552.17V2402ZM1556.55 2402V2087.5H1558V2402ZM1562.38 2402V2079H1563.83V2402ZM1568.21 2402V2053.5H1569.67V2402ZM1574.04 2402V2045H1575.5V2402ZM1579.87 2402V2053.5H1581.33V2402ZM1585.7 2402V2053.5H1587.16V2402ZM1591.53 2402V2079H1592.99V2402ZM1597.37 2402V2053.5H1598.82V2402ZM1603.2 2402V2045H1604.65V2402ZM1609.03 2402V2045H1610.49V2402ZM1614.86 2402V2062H1616.32V2402ZM1620.69 2402V2070.5H1622.15V2402ZM1626.52 2402V2121.5H1627.98V2402ZM1632.35 2402V2087.5H1633.81V2402ZM1638.19 2402V2045H1639.64V2402ZM1644.02 2402V2096H1645.47V2402ZM1649.85 2402V2070.5H1651.31V2402ZM1655.68 2402V2079H1657.14V2402ZM1661.51 2402V2070.5H1662.97V2402ZM1667.34 2402V2079H1668.8V2402ZM1673.17 2402V2053.5H1674.63V2402ZM1679.01 2402V2079H1680.46V2402ZM1684.84 2402V2062H1686.29V2402ZM1690.67 2402V2070.5H1692.13V2402ZM1696.5 2402V2062H1697.96V2402ZM1702.33 2402V2062H1703.79V2402ZM1708.16 2402V2062H1709.62V2402ZM1713.99 2402V2070.5H1715.45V2402ZM1719.83 2402V2062H1721.28V2402ZM1725.66 2402V2070.5H1727.11V2402ZM1731.49 2402V2062H1732.95V2402ZM1737.32 2402V2070.5H1738.78V2402ZM1743.15 2402V2087.5H1744.61V2402ZM1748.98 2402V2062H1750.44V2402ZM1754.81 2402V2053.5H1756.27V2402ZM1760.65 2402V2062H1762.1V2402ZM1766.48 2402V2079H1767.93V2402ZM1772.31 2402V2079H1773.77V2402ZM1778.14 2402V2070.5H1779.6V2402ZM1783.97 2402V2053.5H1785.43V2402ZM1789.8 2402V2079H1791.26V2402ZM1795.63 2402V2053.5H1797.09V2402ZM1801.47 2402V2096H1802.92V2402ZM1807.3 2402V2070.5H1808.75V2402ZM1813.13 2402V2045H1814.59V2402ZM1818.96 2402V2062H1820.42V2402ZM1824.79 2402V2087.5H1826.25V2402ZM1830.62 2402V2079H1832.08V2402ZM1836.45 2402V2096H1837.91V2402ZM1842.29 2402V2087.5H1843.74V2402ZM1848.12 2402V2079H1849.57V2402ZM1853.95 2402V2087.5H1855.41V2402ZM1859.78 2402V2062H1861.24V2402ZM1865.61 2402V2062H1867.07V2402ZM1871.44 2402V2062H1872.9V2402ZM1877.27 2402V2087.5H1878.73V2402ZM1883.11 2402V2079H1884.56V2402ZM1888.94 2402V2062H1890.39V2402ZM1894.77 2402V2087.5H1896.23V2402ZM1900.6 2402V2096H1902.06V2402ZM1906.43 2402V2053.5H1907.89V2402ZM1912.26 2402V2070.5H1913.72V2402ZM1918.09 2402V2062H1919.55V2402ZM1923.93 2402V2070.5H1925.38V2402ZM1929.76 2402V2079H1931.21V2402ZM1935.59 2402V2062H1937.05V2402ZM1941.42 2402V2053.5H1942.88V2402ZM1947.25 2402V2079H1948.71V2402ZM1953.08 2402V2070.5H1954.54V2402ZM1958.91 2402V2062H1960.37V2402ZM1964.75 2402V2062H1966.2V2402ZM1970.58 2402V2087.5H1972.03V2402ZM1976.41 2402V2062H1977.87V2402ZM1982.24 2402V2070.5H1983.7V2402ZM1988.07 2402V2079H1989.53V2402ZM1993.9 2402V2079H1995.36V2402ZM1999.73 2402V2079H2001.19V2402ZM2005.57 2402V2062H2007.02V2402ZM2011.4 2402V2062H2012.85V2402ZM2017.23 2402V2087.5H2018.69V2402ZM2023.06 2402V2070.5H2024.52V2402ZM2028.89 2402V2070.5H2030.35V2402ZM2034.72 2402V2070.5H2036.18V2402ZM2040.55 2402V2096H2042.01V2402ZM2046.39 2402V2113H2047.84V2402ZM2052.22 2402V2070.5H2053.67V2402ZM2058.05 2402V2070.5H2059.51V2402ZM2063.88 2402V2070.5H2065.34V2402ZM2069.71 2402V2053.5H2071.17V2402ZM2075.54 2402V2070.5H2077V2402ZM2081.37 2402V2079H2082.83V2402ZM2087.21 2402V2053.5H2088.66V2402ZM2093.04 2402V2062H2094.49V2402ZM2098.87 2402V2087.5H2100.33V2402ZM2104.7 2402V2079H2106.16V2402ZM2110.53 2402V2062H2111.99V2402ZM2116.36 2402V2104.5H2117.82V2402ZM2122.19 2402V2062H2123.65V2402ZM2128.03 2402V2079H2129.48V2402ZM2133.86 2402V2045H2135.31V2402ZM2139.69 2402V2079H2141.15V2402ZM2145.52 2402V2079H2146.98V2402ZM2151.35 2402V2096H2152.81V2402ZM2157.18 2402V2070.5H2158.64V2402ZM2163.01 2402V2053.5H2164.47V2402ZM2168.85 2402V2079H2170.3V2402ZM2174.68 2402V2062H2176.13V2402ZM2180.51 2402V2087.5H2181.97V2402ZM2186.34 2402V2070.5H2187.8V2402ZM2192.17 2402V2087.5H2193.63V2402ZM2198 2402V2087.5H2199.46V2402ZM2203.83 2402V2070.5H2205.29V2402ZM2209.67 2402V2087.5H2211.12V2402ZM2215.5 2402V2240.5H2216.95V2402ZM2221.33 2402V2087.5H2222.79V2402ZM2227.16 2402V2070.5H2228.62V2402ZM2232.99 2402V2096H2234.45V2402ZM2238.82 2402V2087.5H2240.28V2402ZM2244.65 2402V2079H2246.11V2402ZM2250.49 2402V2062H2251.94V2402ZM2256.32 2402V2062H2257.77V2402ZM2262.15 2402V2070.5H2263.61V2402ZM2267.98 2402V2087.5H2269.44V2402ZM2273.81 2402V2070.5H2275.27V2402ZM2279.64 2402V2079H2281.1V2402ZM2285.47 2402V2079H2286.93V2402ZM2291.31 2402V2079H2292.76V2402ZM2297.14 2402V2070.5H2298.59V2402ZM2302.97 2402V2070.5H2304.43V2402ZM2308.8 2402V2087.5H2310.26V2402ZM2314.63 2402V2087.5H2316.09V2402ZM2320.46 2402V2062H2321.92V2402ZM2326.29 2402V2087.5H2327.75V2402ZM2332.13 2402V2087.5H2333.58V2402ZM2337.96 2402V2079H2339.41V2402ZM2343.79 2402V2070.5H2345.25V2402ZM2349.62 2402V2062H2351.08V2402ZM2355.45 2402V2070.5H2356.91V2402ZM2361.28 2402V2087.5H2362.74V2402ZM2367.11 2402V2053.5H2368.57V2402ZM2372.95 2402V2062H2374.4V2402ZM2378.78 2402V2070.5H2380.23V2402ZM2384.61 2402V2087.5H2386.07V2402ZM2390.44 2402V2070.5H2391.9V2402ZM2396.27 2402V2087.5H2397.73V2402ZM2402.1 2402V2087.5H2403.56V2402ZM2407.93 2402V2087.5H2409.39V2402ZM2413.77 2402V2079H2415.22V2402ZM2419.6 2402V2079H2421.05V2402ZM2425.43 2402V2062H2426.89V2402ZM2431.26 2402V2045H2432.72V2402ZM2437.09 2402V2079H2438.55V2402Z"/><path shape-rendering="crispEdges" fill="#D95319" d="M362.68 2402V2087.5H364.13V2402ZM368.51 2402V2045H369.97V2402ZM374.34 2402V2045H375.8V2402ZM380.17 2402V2079H381.63V2402ZM386 2402V2053.5H387.46V2402ZM391.83 2402V2087.5H393.29V2402ZM397.67 2402V2070.5H399.12V2402ZM403.5 2402V2045H404.95V2402ZM409.33 2402V2036.5H410.79V2402ZM415.16 2402V2045H416.62V2402ZM420.99 2402V2053.5H422.45V2402ZM426.82 2402V2028H428.28V2402ZM432.65 2402V2062H434.11V2402ZM438.49 2402V2079H439.94V2402ZM444.32 2402V2028H445.77V2402ZM450.15 2402V2053.5H451.61V2402ZM455.98 2402V2045H457.44V2402ZM461.81 2402V2070.5H463.27V2402ZM467.64 2402V2070.5H469.1V2402ZM473.47 2402V2087.5H474.93V2402ZM479.31 2402V2062H480.76V2402ZM485.14 2402V2062H486.59V2402ZM490.97 2402V2062H492.43V2402ZM496.8 2402V2079H498.26V2402ZM502.63 2402V2070.5H504.09V2402ZM508.46 2402V2045H509.92V2402ZM514.29 2402V2079H515.75V2402ZM520.13 2402V2104.5H521.58V2402ZM525.96 2402V2104.5H527.41V2402ZM531.79 2402V2045H533.25V2402ZM537.62 2402V2045H539.08V2402ZM543.45 2402V2062H544.91V2402ZM549.28 2402V2053.5H550.74V2402ZM555.11 2402V2036.5H556.57V2402ZM560.95 2402V2045H562.4V2402ZM566.78 2402V2104.5H568.23V2402ZM572.61 2402V2053.5H574.07V2402ZM578.44 2402V2070.5H579.9V2402ZM584.27 2402V2104.5H585.73V2402ZM590.1 2402V2062H591.56V2402ZM595.93 2402V2062H597.39V2402ZM601.77 2402V2062H603.22V2402ZM607.6 2402V2062H609.05V2402ZM613.43 2402V2053.5H614.89V2402ZM619.26 2402V2062H620.72V2402ZM625.09 2402V2096H626.55V2402ZM630.92 2402V2079H632.38V2402ZM636.75 2402V2104.5H638.21V2402ZM642.59 2402V2053.5H644.04V2402ZM648.42 2402V2087.5H649.87V2402ZM654.25 2402V2113H655.71V2402ZM660.08 2402V2087.5H661.54V2402ZM665.91 2402V2079H667.37V2402ZM671.74 2402V2096H673.2V2402ZM677.57 2402V2070.5H679.03V2402ZM683.41 2402V2104.5H684.86V2402ZM689.24 2402V2070.5H690.69V2402ZM695.07 2402V2053.5H696.53V2402ZM700.9 2402V2104.5H702.36V2402ZM706.73 2402V2062H708.19V2402ZM712.56 2402V2045H714.02V2402ZM718.39 2402V2096H719.85V2402ZM724.23 2402V2036.5H725.68V2402ZM730.06 2402V2053.5H731.51V2402ZM735.89 2402V2062H737.35V2402ZM741.72 2402V2053.5H743.18V2402ZM747.55 2402V2062H749.01V2402ZM753.38 2402V2070.5H754.84V2402ZM759.21 2402V2053.5H760.67V2402ZM765.05 2402V2036.5H766.5V2402ZM770.88 2402V2070.5H772.33V2402ZM776.71 2402V2070.5H778.17V2402ZM782.54 2402V2045H784V2402ZM788.37 2402V2053.5H789.83V2402ZM794.2 2402V2062H795.66V2402ZM800.03 2402V2062H801.49V2402ZM805.87 2402V2087.5H807.32V2402ZM811.7 2402V2096H813.15V2402ZM817.53 2402V2045H818.99V2402ZM823.36 2402V2079H824.82V2402ZM829.19 2402V2062H830.65V2402ZM835.02 2402V2045H836.48V2402ZM840.85 2402V2104.5H842.31V2402ZM846.69 2402V2062H848.14V2402ZM852.52 2402V2096H853.97V2402ZM858.35 2402V2079H859.81V2402ZM864.18 2402V2062H865.64V2402ZM870.01 2402V2070.5H871.47V2402ZM875.84 2402V2087.5H877.3V2402ZM881.67 2402V2062H883.13V2402ZM887.51 2402V2096H888.96V2402ZM893.34 2402V2045H894.79V2402ZM899.17 2402V2079H900.63V2402ZM905 2402V2062H906.46V2402ZM910.83 2402V2070.5H912.29V2402ZM916.66 2402V2070.5H918.12V2402ZM922.49 2402V2062H923.95V2402ZM928.33 2402V2104.5H929.78V2402ZM934.16 2402V2062H935.61V2402ZM939.99 2402V2079H941.45V2402ZM945.82 2402V2053.5H947.28V2402ZM951.65 2402V2087.5H953.11V2402ZM957.48 2402V2070.5H958.94V2402ZM963.31 2402V2062H964.77V2402ZM969.15 2402V2036.5H970.6V2402ZM974.98 2402V2070.5H976.43V2402ZM980.81 2402V2019.5H982.27V2402ZM986.64 2402V2053.5H988.1V2402ZM992.47 2402V2087.5H993.93V2402ZM998.3 2402V2070.5H999.76V2402ZM1004.13 2402V2062H1005.59V2402ZM1009.97 2402V2079H1011.42V2402ZM1015.8 2402V2104.5H1017.25V2402ZM1021.63 2402V2096H1023.09V2402ZM1027.46 2402V2215H1028.92V2402ZM1033.29 2402V2104.5H1034.75V2402ZM1039.12 2402V2036.5H1040.58V2402ZM1044.95 2402V2070.5H1046.41V2402ZM1050.79 2402V2070.5H1052.24V2402ZM1056.62 2402V2062H1058.07V2402ZM1062.45 2402V2096H1063.91V2402ZM1068.28 2402V2062H1069.74V2402ZM1074.11 2402V2070.5H1075.57V2402ZM1079.94 2402V2096H1081.4V2402ZM1085.77 2402V2079H1087.23V2402ZM1091.61 2402V2096H1093.06V2402ZM1097.44 2402V2070.5H1098.89V2402ZM1103.27 2402V2053.5H1104.73V2402ZM1109.1 2402V2079H1110.56V2402ZM1114.93 2402V2062H1116.39V2402ZM1120.76 2402V2079H1122.22V2402ZM1126.59 2402V2062H1128.05V2402ZM1132.43 2402V2070.5H1133.88V2402ZM1138.26 2402V2045H1139.71V2402ZM1144.09 2402V2079H1145.55V2402ZM1149.92 2402V2053.5H1151.38V2402ZM1155.75 2402V2062H1157.21V2402ZM1161.58 2402V2087.5H1163.04V2402ZM1167.41 2402V2079H1168.87V2402ZM1173.25 2402V2079H1174.7V2402ZM1179.08 2402V2087.5H1180.53V2402ZM1184.91 2402V2079H1186.37V2402ZM1190.74 2402V2079H1192.2V2402ZM1196.57 2402V2053.5H1198.03V2402ZM1202.4 2402V2096H1203.86V2402ZM1208.23 2402V2070.5H1209.69V2402ZM1214.07 2402V2070.5H1215.52V2402ZM1219.9 2402V2087.5H1221.35V2402ZM1225.73 2402V2070.5H1227.19V2402ZM1231.56 2402V2087.5H1233.02V2402ZM1237.39 2402V2079H1238.85V2402ZM1243.22 2402V2079H1244.68V2402ZM1249.05 2402V2096H1250.51V2402ZM1254.89 2402V2062H1256.34V2402ZM1260.72 2402V2079H1262.17V2402ZM1266.55 2402V2087.5H1268.01V2402ZM1272.38 2402V2062H1273.84V2402ZM1278.21 2402V2053.5H1279.67V2402ZM1284.04 2402V2087.5H1285.5V2402ZM1289.87 2402V2079H1291.33V2402ZM1295.71 2402V2070.5H1297.16V2402ZM1301.54 2402V2070.5H1302.99V2402ZM1307.37 2402V2028H1308.83V2402ZM1313.2 2402V2121.5H1314.66V2402ZM1319.03 2402V2062H1320.49V2402ZM1324.86 2402V2113H1326.32V2402ZM1330.69 2402V2070.5H1332.15V2402ZM1336.53 2402V2079H1337.98V2402ZM1342.36 2402V2087.5H1343.81V2402ZM1348.19 2402V2104.5H1349.65V2402ZM1354.02 2402V2070.5H1355.48V2402ZM1359.85 2402V2070.5H1361.31V2402ZM1365.68 2402V2079H1367.14V2402ZM1371.51 2402V2096H1372.97V2402ZM1377.35 2402V2062H1378.8V2402ZM1383.18 2402V2087.5H1384.63V2402ZM1389.01 2402V2036.5H1390.47V2402ZM1394.84 2402V2079H1396.3V2402ZM1400.67 2402V2053.5H1402.13V2402ZM1406.5 2402V2053.5H1407.96V2402ZM1412.33 2402V2087.5H1413.79V2402ZM1418.17 2402V2087.5H1419.62V2402ZM1424 2402V2087.5H1425.45V2402ZM1429.83 2402V2062H1431.29V2402ZM1435.66 2402V2070.5H1437.12V2402ZM1441.49 2402V2113H1442.95V2402ZM1447.32 2402V2096H1448.78V2402ZM1453.15 2402V2087.5H1454.61V2402ZM1458.99 2402V2053.5H1460.44V2402ZM1464.82 2402V2079H1466.27V2402ZM1470.65 2402V2045H1472.11V2402ZM1476.48 2402V2104.5H1477.94V2402ZM1482.31 2402V2087.5H1483.77V2402ZM1488.14 2402V2096H1489.6V2402ZM1493.97 2402V2062H1495.43V2402ZM1499.81 2402V2070.5H1501.26V2402ZM1505.64 2402V2104.5H1507.09V2402ZM1511.47 2402V2087.5H1512.93V2402ZM1517.3 2402V2087.5H1518.76V2402ZM1523.13 2402V2070.5H1524.59V2402ZM1528.96 2402V2087.5H1530.42V2402ZM1534.79 2402V2062H1536.25V2402ZM1540.63 2402V2079H1542.08V2402ZM1546.46 2402V2087.5H1547.91V2402ZM1552.29 2402V2096H1553.75V2402ZM1558.12 2402V2121.5H1559.58V2402ZM1563.95 2402V2062H1565.41V2402ZM1575.61 2402V2104.5H1577.07V2402ZM1581.45 2402V2079H1582.9V2402ZM1587.28 2402V2113H1588.73V2402ZM1593.11 2402V2079H1594.57V2402ZM1598.94 2402V2062H1600.4V2402ZM1604.77 2402V2087.5H1606.23V2402ZM1610.6 2402V2070.5H1612.06V2402ZM1616.43 2402V2062H1617.89V2402ZM1622.27 2402V2121.5H1623.72V2402ZM1628.1 2402V2053.5H1629.55V2402ZM1633.93 2402V2096H1635.39V2402ZM1639.76 2402V2070.5H1641.22V2402ZM1645.59 2402V2053.5H1647.05V2402ZM1651.42 2402V2087.5H1652.88V2402ZM1657.25 2402V2087.5H1658.71V2402ZM1663.09 2402V2079H1664.54V2402ZM1668.92 2402V2045H1670.37V2402ZM1674.75 2402V2079H1676.21V2402ZM1680.58 2402V2087.5H1682.04V2402ZM1686.41 2402V2300H1687.87V2402ZM1692.24 2402V2070.5H1693.7V2402ZM1698.07 2402V2087.5H1699.53V2402ZM1703.91 2402V2087.5H1705.36V2402ZM1709.74 2402V2079H1711.19V2402ZM1715.57 2402V2053.5H1717.03V2402ZM1721.4 2402V2087.5H1722.86V2402ZM1727.23 2402V2079H1728.69V2402ZM1733.06 2402V2130H1734.52V2402ZM1738.89 2402V2317H1740.35V2402ZM1744.73 2402V2053.5H1746.18V2402ZM1750.56 2402V2096H1752.01V2402ZM1756.39 2402V2079H1757.85V2402ZM1762.22 2402V2036.5H1763.68V2402ZM1768.05 2402V2053.5H1769.51V2402ZM1773.88 2402V2096H1775.34V2402ZM1785.55 2402V2087.5H1787V2402ZM1791.38 2402V2070.5H1792.83V2402ZM1797.21 2402V2070.5H1798.67V2402ZM1803.04 2402V2087.5H1804.5V2402ZM1808.87 2402V2104.5H1810.33V2402ZM1814.7 2402V2062H1816.16V2402ZM1820.53 2402V2045H1821.99V2402ZM1826.37 2402V2062H1827.82V2402ZM1832.2 2402V2070.5H1833.65V2402ZM1838.03 2402V2096H1839.49V2402ZM1843.86 2402V2053.5H1845.32V2402ZM1849.69 2402V2087.5H1851.15V2402ZM1855.52 2402V2087.5H1856.98V2402ZM1861.35 2402V2070.5H1862.81V2402ZM1867.19 2402V2062H1868.64V2402ZM1873.02 2402V2087.5H1874.47V2402ZM1878.85 2402V2062H1880.31V2402ZM1884.68 2402V2087.5H1886.14V2402ZM1890.51 2402V2062H1891.97V2402ZM1896.34 2402V2079H1897.8V2402ZM1902.17 2402V2053.5H1903.63V2402ZM1908.01 2402V2070.5H1909.46V2402ZM1913.84 2402V2096H1915.29V2402ZM1919.67 2402V2045H1921.13V2402ZM1925.5 2402V2070.5H1926.96V2402ZM1931.33 2402V2087.5H1932.79V2402ZM1937.16 2402V2121.5H1938.62V2402ZM1942.99 2402V2079H1944.45V2402ZM1948.83 2402V2087.5H1950.28V2402ZM1954.66 2402V2028H1956.11V2402ZM1960.49 2402V2079H1961.95V2402ZM1966.32 2402V2062H1967.78V2402ZM1972.15 2402V2070.5H1973.61V2402ZM1977.98 2402V2087.5H1979.44V2402ZM1983.81 2402V2062H1985.27V2402ZM1989.65 2402V2113H1991.1V2402ZM1995.48 2402V2045H1996.93V2402ZM2001.31 2402V2087.5H2002.77V2402ZM2007.14 2402V2096H2008.6V2402ZM2012.97 2402V2096H2014.43V2402ZM2018.8 2402V2096H2020.26V2402ZM2024.63 2402V2079H2026.09V2402ZM2030.47 2402V2096H2031.92V2402ZM2036.3 2402V2070.5H2037.75V2402ZM2042.13 2402V2053.5H2043.59V2402ZM2047.96 2402V2079H2049.42V2402ZM2053.79 2402V2070.5H2055.25V2402ZM2059.62 2402V2096H2061.08V2402ZM2065.45 2402V2070.5H2066.91V2402ZM2071.29 2402V2079H2072.74V2402ZM2077.12 2402V2070.5H2078.57V2402ZM2082.95 2402V2070.5H2084.41V2402ZM2088.78 2402V2070.5H2090.24V2402ZM2094.61 2402V2070.5H2096.07V2402ZM2100.44 2402V2070.5H2101.9V2402ZM2106.27 2402V2053.5H2107.73V2402ZM2112.11 2402V2087.5H2113.56V2402ZM2117.94 2402V2053.5H2119.39V2402ZM2123.77 2402V2062H2125.23V2402ZM2129.6 2402V2070.5H2131.06V2402ZM2135.43 2402V2087.5H2136.89V2402ZM2141.26 2402V2062H2142.72V2402ZM2147.09 2402V2070.5H2148.55V2402ZM2152.93 2402V2070.5H2154.38V2402ZM2158.76 2402V2079H2160.21V2402ZM2164.59 2402V2070.5H2166.05V2402ZM2170.42 2402V2087.5H2171.88V2402ZM2176.25 2402V2079H2177.71V2402ZM2182.08 2402V2079H2183.54V2402ZM2187.91 2402V2079H2189.37V2402ZM2193.75 2402V2079H2195.2V2402ZM2199.58 2402V2079H2201.03V2402ZM2205.41 2402V2096H2206.87V2402ZM2211.24 2402V2249H2212.7V2402ZM2217.07 2402V2070.5H2218.53V2402ZM2222.9 2402V2045H2224.36V2402ZM2228.73 2402V2087.5H2230.19V2402ZM2234.57 2402V2079H2236.02V2402ZM2240.4 2402V2087.5H2241.85V2402ZM2246.23 2402V2062H2247.69V2402ZM2252.06 2402V2096H2253.52V2402ZM2257.89 2402V2087.5H2259.35V2402ZM2263.72 2402V2062H2265.18V2402ZM2269.55 2402V2062H2271.01V2402ZM2275.39 2402V2062H2276.84V2402ZM2281.22 2402V2053.5H2282.67V2402ZM2287.05 2402V2104.5H2288.51V2402ZM2292.88 2402V2096H2294.34V2402ZM2298.71 2402V2087.5H2300.17V2402ZM2304.54 2402V2096H2306V2402ZM2310.37 2402V2070.5H2311.83V2402ZM2316.21 2402V2070.5H2317.66V2402ZM2322.04 2402V2070.5H2323.49V2402ZM2327.87 2402V2087.5H2329.33V2402ZM2333.7 2402V2062H2335.16V2402ZM2339.53 2402V2087.5H2340.99V2402ZM2345.36 2402V2104.5H2346.82V2402ZM2351.19 2402V2053.5H2352.65V2402ZM2357.03 2402V2096H2358.48V2402ZM2362.86 2402V2062H2364.31V2402ZM2368.69 2402V2087.5H2370.15V2402ZM2374.52 2402V2104.5H2375.98V2402ZM2380.35 2402V2079H2381.81V2402ZM2386.18 2402V2087.5H2387.64V2402ZM2392.01 2402V2062H2393.47V2402ZM2397.85 2402V2053.5H2399.3V2402ZM2403.68 2402V2138.5H2405.13V2402ZM2409.51 2402V2045H2410.97V2402ZM2415.34 2402V2062H2416.8V2402ZM2421.17 2402V2087.5H2422.63V2402ZM2427 2402V2070.5H2428.46V2402ZM2432.83 2402V2070.5H2434.29V2402ZM2438.67 2402V2236.25H2440.12V2402Z"/><polyline fill="none" stroke="#EDB120" stroke-width="1.8" stroke-linejoin="round" points="351.63,2104.5 357.46,2130 363.29,2070.5 369.12,2118.95 374.95,2079 380.78,2118.95 386.62,2104.5 392.45,2141.05 398.28,2155.5 404.11,2141.05 409.94,2075.6 415.77,2084.95 421.6,2130 427.44,2138.5 433.27,2242.2 439.1,2206.5 444.93,2104.5 450.76,2118.95 456.59,2138.5 462.42,2104.5 468.25,2138.5 474.09,2121.5 479.92,2155.5 485.75,2138.5 491.58,2130 497.41,2308.5 503.24,2141.05 509.08,2164 514.91,2113 520.74,2172.5 526.57,2104.5 532.4,2155.5 538.23,2113 544.06,2155.5 549.89,2070.5 555.73,2104.5 561.56,2147 567.39,2121.5 573.22,2155.5 579.05,2138.5 584.88,2104.5 590.72,2138.5 596.55,2147 602.38,2138.5 608.21,2104.5 614.04,2113 619.87,2130 625.7,2147 631.54,2138.5 637.37,2172.5 643.2,2138.5 649.03,2155.5 654.86,2164 660.69,2176.75 666.52,2104.5 672.36,2113 678.19,2198 684.02,2113 689.85,2207.35 695.68,2124.9 701.51,2132.55 707.34,2104.5 713.17,2121.5 719.01,2147 724.84,2130 730.67,2062.85 736.5,2121.5 742.33,2096.85 748.16,2121.5 754,2198 759.83,2184.4 765.66,2172.5 771.49,2121.5 777.32,2096.85 783.15,2118.95 788.98,2104.5 794.82,2147 800.65,2124.9 806.48,2147 812.31,2138.5 818.14,2172.5 823.97,2172.5 829.8,2172.5 835.63,2138.5 841.47,2121.5 847.3,2113 853.13,2130 858.96,2113 864.79,2147 870.62,2147 876.46,2181 882.29,2172.5 888.12,2215 893.95,2172.5 899.78,2087.5 905.61,2121.5 911.44,2104.5 917.28,2130 923.11,2121.5 928.94,2155.5 934.77,2193.75 940.6,2147 946.43,2198 952.26,2139.35 958.1,2215 963.93,2190.35 969.76,2124.9 975.59,2096 981.42,2130 987.25,2087.5 993.08,2113 998.92,2138.5 1004.75,2147 1010.58,2130 1016.41,2156.35 1022.24,2122.35 1028.07,2156.35 1033.9,2104.5 1039.74,2113 1045.57,2155.5 1051.4,2155.5 1057.23,2138.5 1063.06,2104.5 1068.89,2121.5 1074.72,2164 1080.56,2130 1086.39,2147 1092.22,2130.85 1098.05,2198 1103.88,2164 1109.71,2087.5 1115.54,2124.9 1121.38,2186.95 1127.21,2274.5 1133.04,2113 1138.87,2124.9 1144.7,2147 1150.53,2155.5 1156.36,2169.1 1162.2,2181 1168.03,2087.5 1173.86,2181 1179.69,2122.35 1185.52,2138.5 1191.35,2096 1197.18,2070.5 1203.02,2130 1208.85,2190.35 1214.68,2104.5 1220.51,2172.5 1226.34,2147 1232.17,2171.65 1238,2053.5 1243.84,2155.5 1249.67,2165.7 1255.5,2164 1261.33,2130 1267.16,2104.5 1272.99,2124.9 1278.82,2147 1284.66,2164 1290.49,2138.5 1296.32,2138.5 1302.15,2207.35 1307.98,2147 1313.81,2164 1319.64,2215 1325.47,2062.85 1331.31,2147 1337.14,2190.35 1342.97,2087.5 1348.8,2164 1354.63,2130.85 1360.46,2138.5 1366.3,2147 1372.13,2096 1377.96,2171.65 1383.79,2172.5 1389.62,2198 1395.45,2186.95 1401.28,2156.35 1407.12,234.5 1412.95,2101.95 1418.78,2172.5 1424.61,2249.85 1430.44,2186.95 1436.27,2122.35 1442.1,2181 1447.94,2207.35 1453.77,2155.5 1459.6,2130.85 1465.43,2147 1471.26,2215 1477.09,2164 1482.92,2207.35 1488.76,2164 1494.59,2113 1500.42,2134.25 1506.25,2130.85 1512.08,2147 1517.91,2164 1523.74,2171.65 1529.58,2130 1535.41,2190.35 1541.24,2181 1547.07,2130 1552.9,2215 1558.73,2138.5 1564.56,2138.5 1570.39,2130.85 1576.23,2096 1582.06,2104.5 1587.89,2087.5 1593.72,2113 1599.55,2122.35 1605.38,2113 1611.22,2079 1617.05,2164 1622.88,2155.5 1628.71,2155.5 1634.54,2198 1640.37,2079 1646.2,2190.35 1652.04,2113 1657.87,2122.35 1663.7,2164 1669.53,2215 1675.36,2155.5 1681.19,2171.65 1687.02,2113 1692.86,2113.85 1698.69,2215 1704.52,2104.5 1710.35,2122.35 1716.18,2130 1722.01,2122.35 1727.84,2138.5 1733.68,2147 1739.51,2164 1745.34,2224.35 1751.17,2096 1757,2087.5 1762.83,2186.95 1768.66,2266 1774.5,2164 1780.33,2087.5 1786.16,2122.35 1791.99,2130 1797.82,2113 1803.65,2155.5 1809.48,2122.35 1815.32,2104.5 1821.15,2130 1826.98,2155.5 1832.81,2232.85 1838.64,2186.95 1844.47,2138.5 1850.3,2113 1856.14,2130 1861.97,2138.5 1867.8,2155.5 1873.63,2164 1879.46,2138.5 1885.29,2181 1891.12,2181 1896.96,2138.5 1902.79,2164 1908.62,2113 1914.45,2172.5 1920.28,2147 1926.11,2122.35 1931.94,2104.5 1937.78,2087.5 1943.61,2130 1949.44,2147 1955.27,2164 1961.1,2147 1966.93,2181 1972.76,2147 1978.6,2147 1984.43,2130.85 1990.26,2130.85 1996.09,2122.35 2001.92,2130 2007.75,2087.5 2013.58,2113 2019.42,2181 2025.25,2139.35 2031.08,2138.5 2036.91,2096 2042.74,2130.85 2048.57,2190.35 2054.4,2130 2060.24,2122.35 2066.07,2147 2071.9,2113 2077.73,2164 2083.56,2164 2089.39,2124.9 2095.22,2079 2101.06,2155.5 2106.89,2147 2112.72,2096 2118.55,2224.35 2124.38,2104.5 2130.21,2138.5 2136.04,2087.5 2141.88,2138.5 2147.71,2181 2153.54,2190.35 2159.37,2138.5 2165.2,2122.35 2171.03,2164 2176.86,2096 2182.7,2181 2188.53,2138.5 2194.36,2155.5 2200.19,2164 2206.02,2147 2211.85,2104.5 2217.68,2300 2223.52,2215 2229.35,2147 2235.18,2190.35 2241.01,2138.5 2246.84,2207.35 2252.67,2096 2258.5,2104.5 2264.34,2130.85 2270.17,2172.5 2276,2147 2281.83,2138.5 2287.66,2139.35 2293.49,2190.35 2299.32,2207.35 2305.16,2181 2310.99,2198 2316.82,2147 2322.65,2079 2328.48,2171.65 2334.31,2156.35 2340.14,2155.5 2345.98,2122.35 2351.81,2113 2357.64,2113 2363.47,2130 2369.3,2113 2375.13,2138.5 2380.96,2155.5 2386.8,2156.35 2392.63,2172.5 2398.46,2138.5 2404.29,2176.75 2410.12,2138.5 2415.95,2104.5 2421.78,2141.9 2427.62,2109.6 2433.45,2087.5 2439.28,2132.55"/><polyline fill="none" stroke="#7E2F8E" stroke-width="1.8" stroke-linejoin="round" points="363.29,2143.6 369.12,2062.85 374.95,2069.65 380.78,2168.25 386.62,2087.5 392.45,2155.5 398.28,2122.35 404.11,2113.85 409.94,2070.5 415.77,2122.35 421.6,2130 427.44,2062.85 433.27,2164 439.1,2155.5 444.93,2062.85 450.76,2104.5 456.59,2130 462.42,2087.5 468.25,2147 474.09,2155.5 479.92,2138.5 485.75,2113 491.58,2096 497.41,2124.9 503.24,2138.5 509.08,2096 514.91,2124.9 520.74,2164 526.57,2164 532.4,2121.5 538.23,2070.5 544.06,2113 549.89,2079 555.73,2087.5 561.56,2070.5 567.39,2147 573.22,2113 579.05,2130 584.88,2300 590.72,2130 596.55,2138.5 602.38,2164 608.21,2181 614.04,2087.5 619.87,2172.5 625.7,2164 631.54,2121.5 637.37,2181 643.2,2113 649.03,2151.25 654.86,2189.5 660.69,2181 666.52,2138.5 672.36,2231.15 678.19,2096 684.02,2172.5 689.85,2155.5 695.68,2096 701.51,2164 707.34,2087.5 713.17,2147 719.01,2124.9 724.84,2087.5 730.67,2113 736.5,2138.5 742.33,2130 748.16,2138.5 754,2104.5 759.83,2130 765.66,2087.5 771.49,2121.5 777.32,2138.5 783.15,2062.85 788.98,2096 794.82,2087.5 800.65,2138.5 806.48,2164 812.31,2155.5 818.14,2079 823.97,2155.5 829.8,2104.5 835.63,2070.5 841.47,2198 847.3,2079 853.13,2155.5 858.96,2172.5 864.79,2079 870.62,2172.5 876.46,2147 882.29,2121.5 888.12,2190.35 893.95,2070.5 899.78,2113 905.61,2104.5 911.44,2147 917.28,2207.35 923.11,2104.5 928.94,2215 934.77,2164 940.6,2139.35 946.43,2139.35 952.26,2164 958.1,2130 963.93,2122.35 969.76,2053.5 975.59,2104.5 981.42,2036.5 987.25,2113 993.08,2181 998.92,2138.5 1004.75,2122.35 1010.58,2155.5 1016.41,2171.65 1022.24,2147 1028.07,2232 1033.9,2190.35 1039.74,2054.35 1045.57,2104.5 1051.4,2155.5 1057.23,2087.5 1063.06,2130.85 1068.89,2130.85 1074.72,2207.35 1080.56,2164 1086.39,2122.35 1092.22,2215 1098.05,2156.35 1103.88,2113 1109.71,2155.5 1115.54,2096 1121.38,2171.65 1127.21,2104.5 1133.04,2109.6 1138.87,2062.85 1144.7,2207.35 1150.53,2078.15 1156.36,2113 1162.2,2147 1168.03,2190.35 1173.86,2190.35 1179.69,2130 1185.52,2104.5 1191.35,2138.5 1197.18,2096 1203.02,2181 1208.85,2096 1214.68,2164 1220.51,2224.35 1226.34,2130 1232.17,2145.3 1238,2130 1243.84,2096.85 1249.67,2186.95 1255.5,2104.5 1261.33,2147 1267.16,2147 1272.99,2121.5 1278.82,2104.5 1284.66,2164 1290.49,2138.5 1296.32,2147 1302.15,2087.5 1307.98,2045.85 1313.81,2171.65 1319.64,2172.5 1325.47,2249.85 1331.31,2113 1337.14,2138.5 1342.97,2130.85 1348.8,2138.5 1354.63,2104.5 1360.46,2124.9 1366.3,2138.5 1372.13,2147 1377.96,2087.5 1383.79,2147 1389.62,2104.5 1395.45,2155.5 1401.28,2053.5 1407.12,2147 1412.95,2113 1418.78,2190.35 1424.61,2164 1430.44,2079 1436.27,2138.5 1442.1,2181 1447.94,2155.5 1453.77,2130 1459.6,2104.5 1465.43,2155.5 1471.26,2062.85 1477.09,2198 1482.92,2156.35 1488.76,2190.35 1494.59,2139.35 1500.42,2139.35 1506.25,2147 1512.08,2215 1517.91,2198 1523.74,2113 1529.58,2130 1535.41,2113 1541.24,2130.85 1547.07,2122.35 1552.9,2147 1558.73,2190.35 1564.56,2113.85"/><polyline fill="none" stroke="#7E2F8E" stroke-width="1.8" stroke-linejoin="round" points="1576.23,2198 1582.06,2113 1587.89,2224.35 1593.72,2164 1599.55,2113 1605.38,2155.5 1611.22,2113 1617.05,2122.35 1622.88,2242.2 1628.71,2138.5 1634.54,2164 1640.37,2130.85 1646.2,2096 1652.04,2147 1657.87,2198 1663.7,2138.5 1669.53,2079 1675.36,2155.5 1681.19,2190.35 1687.02,2300 1692.86,2130.85 1698.69,2138.5 1704.52,2155.5 1710.35,2181 1716.18,2087.5 1722.01,2130.85 1727.84,2138.5 1733.68,2181 1739.51,2317 1745.34,2096 1751.17,2181 1757,2104.5 1762.83,2070.5 1768.66,2138.5 1774.5,2181"/><polyline fill="none" stroke="#7E2F8E" stroke-width="1.8" stroke-linejoin="round" points="1786.16,2181 1791.99,2130.85 1797.82,2138.5 1803.65,2164 1809.48,2240.5 1815.32,2104.5 1821.15,2096 1826.98,2104.5 1832.81,2138.5 1838.64,2181 1844.47,2104.5 1850.3,2147 1856.14,2113 1861.97,2104.5 1867.8,2130.85 1873.63,2138.5 1879.46,2113 1885.29,2171.65 1891.12,2087.5 1896.96,2124.9 1902.79,2172.5 1908.62,2172.5 1914.45,2164 1920.28,2087.5 1926.11,2096 1931.94,2122.35 1937.78,2155.5 1943.61,2215 1949.44,2164 1955.27,2045.85 1961.1,2147 1966.93,2130.85 1972.76,2113 1978.6,2155.5 1984.43,2113 1990.26,2215 1996.09,2113 2001.92,2156.35 2007.75,2198 2013.58,2190.35 2019.42,2181 2025.25,2190.35 2031.08,2181 2036.91,2130.85 2042.74,2113 2048.57,2198 2054.4,2171.65 2060.24,2147 2066.07,2147 2071.9,2198 2077.73,2104.5 2083.56,2147 2089.39,2087.5 2095.22,2113 2101.06,2138.5 2106.89,2113 2112.72,2138.5 2118.55,2122.35 2124.38,2104.5 2130.21,2113 2136.04,2181 2141.88,2096 2147.71,2164 2153.54,2172.5 2159.37,2147 2165.2,2138.5 2171.03,2232.85 2176.86,2138.5 2182.7,2147 2188.53,2181 2194.36,2155.5 2200.19,2113 2206.02,2130.85 2211.85,2291.5 2217.68,2130 2223.52,2070.5 2229.35,2190.35 2235.18,2147 2241.01,2181 2246.84,2122.35 2252.67,2113 2258.5,2138.5 2264.34,2096 2270.17,2118.95 2276,2147 2281.83,2130.85 2287.66,2207.35 2293.49,2138.5 2299.32,2198 2305.16,2138.5 2310.99,2147 2316.82,2104.5 2322.65,2147 2328.48,2155.5 2334.31,2104.5 2340.14,2190.35 2345.98,2147.85 2351.81,2147 2357.64,2130.85 2363.47,2138.5 2369.3,2164 2375.13,2155.5 2380.96,2147 2386.8,2113 2392.63,2087.5 2398.46,2096 2404.29,2181 2410.12,2138.5 2415.95,2096 2421.78,2134.25 2427.62,2122.35 2433.45,2181 2439.28,2248.15"/><polyline fill="none" stroke="#77AC30" stroke-width="1.8" stroke-linejoin="round" points="351.63,2053.5 357.46,2011 363.29,2011 369.12,2002.5 374.95,2015.25 380.78,2028 386.62,1994 392.45,2011 398.28,2036.5 404.11,2028 409.94,1994 415.77,2011 421.6,2011 427.44,2028 433.27,2013.55 439.1,2028 444.93,2019.5 450.76,2026.3 456.59,2011 462.42,2028 468.25,2028 474.09,2011 479.92,1994 485.75,2028 491.58,2016.1 497.41,2198 503.24,2011 509.08,2036.5 514.91,2008.45 520.74,1985.5 526.57,1985.5 532.4,2002.5 538.23,2019.5 544.06,2045 549.89,2019.5 555.73,2017.8 561.56,2002.5 567.39,2019.5 573.22,2053.5 579.05,2011 584.88,2011 590.72,2045 596.55,2011 602.38,2011 608.21,2011 614.04,2019.5 619.87,2002.5 625.7,2011 631.54,2019.5 637.37,2011 643.2,2028 649.03,2002.5 654.86,2011 660.69,2026.3 666.52,1985.5 672.36,2019.5 678.19,1994 684.02,1994 689.85,1985.5 695.68,2011 701.51,2002.5 707.34,2036.5 713.17,1977 719.01,2011 724.84,2002.5 730.67,1994 736.5,2002.5 742.33,2011 748.16,2011 754,2028 759.83,1994 765.66,2011 771.49,2019.5 777.32,1994 783.15,1977 788.98,2002.5 794.82,2028 800.65,2011 806.48,1985.5 812.31,2019.5 818.14,2036.5 823.97,2011 829.8,1995.7 835.63,2011 841.47,2028 847.3,2028 853.13,2011 858.96,2011 864.79,2011 870.62,2011 876.46,2002.5 882.29,2016.1 888.12,2096 893.95,2011 899.78,2011 905.61,2002.5 911.44,2016.1 917.28,2002.5 923.11,1994.85 928.94,2062 934.77,1985.5 940.6,2002.5 946.43,2011.85 952.26,2019.5 958.1,2028 963.93,2011.85 969.76,2011.85 975.59,2011 981.42,1994 987.25,1977 993.08,1985.5 998.92,1994 1004.75,2002.5 1010.58,2002.5 1016.41,2011 1022.24,2019.5 1028.07,2035.65 1033.9,2019.5 1039.74,2028 1045.57,2028 1051.4,1994.85 1057.23,1994.85 1063.06,2019.5 1068.89,2028 1074.72,1977 1080.56,2016.1 1086.39,2011 1092.22,2011 1098.05,2002.5 1103.88,2011 1109.71,2002.5 1115.54,2002.5 1121.38,2011 1127.21,2215 1133.04,2036.5 1138.87,2028 1144.7,2019.5 1150.53,2011.85 1156.36,2011 1162.2,2002.5 1168.03,2002.5 1173.86,2011 1179.69,2011.85 1185.52,2028 1191.35,2019.5 1197.18,2045 1203.02,2011.85 1208.85,2019.5 1214.68,2035.65 1220.51,2011 1226.34,2028 1232.17,2002.5 1238,2011 1243.84,2011.85 1249.67,2052.65 1255.5,2019.5 1261.33,2045 1267.16,2028 1272.99,2019.5 1278.82,2028 1284.66,2019.5 1290.49,1994.85 1296.32,2002.5 1302.15,1994.85 1307.98,2028 1313.81,2002.5 1319.64,2019.5 1325.47,2019.5 1331.31,2035.65 1337.14,2016.1 1342.97,1994.85 1348.8,2016.1 1354.63,2035.65 1360.46,2002.5 1366.3,2011 1372.13,2002.5 1377.96,2028 1383.79,2011.85 1389.62,2028 1395.45,2035.65 1401.28,2019.5 1407.12,2402 1412.95,2028 1418.78,2011 1424.61,2019.5 1430.44,2002.5 1436.27,2002.5 1442.1,2028 1447.94,2028 1453.77,2019.5 1459.6,2019.5 1465.43,2036.5 1471.26,2036.5 1477.09,2011 1482.92,2002.5 1488.76,2014.4 1494.59,2045 1500.42,2003.35 1506.25,1994.85 1512.08,2035.65 1517.91,2003.35 1523.74,2028 1529.58,1994.85 1535.41,2002.5 1541.24,2019.5 1547.07,2011.85 1552.9,2019.5 1558.73,2011.85 1564.56,1985.5 1570.39,2002.5 1576.23,2011 1582.06,2011 1587.89,2019.5 1593.72,2002.5 1599.55,2002.5 1605.38,2002.5 1611.22,1994.85 1617.05,2035.65 1622.88,2011.85 1628.71,2053.5 1634.54,2002.5 1640.37,2002.5 1646.2,2035.65 1652.04,2019.5 1657.87,2011 1663.7,2019.5 1669.53,2036.5 1675.36,2019.5 1681.19,2028 1687.02,2019.5 1692.86,2035.65 1698.69,2002.5 1704.52,2002.5 1710.35,2028 1716.18,2019.5 1722.01,2011.85 1727.84,2028 1733.68,2002.5 1739.51,2002.5 1745.34,2079 1751.17,2036.5 1757,2003.35 1762.83,2028 1768.66,1994.85 1774.5,2019.5 1780.33,2045 1786.16,2011.85 1791.99,2035.65 1797.82,2011 1803.65,2011 1809.48,2035.65 1815.32,2019.5 1821.15,2002.5 1826.98,2019.5 1832.81,2011 1838.64,2011 1844.47,2002.5 1850.3,2035.65 1856.14,2019.5 1861.97,2019.5 1867.8,2002.5 1873.63,2002.5 1879.46,2045 1885.29,2036.5 1891.12,2019.5 1896.96,2002.5 1902.79,2035.65 1908.62,2014.4 1914.45,2002.5 1920.28,2035.65 1926.11,2002.5 1931.94,2052.65 1937.78,1985.5 1943.61,2019.5 1949.44,2011.85 1955.27,2011 1961.1,2019.5 1966.93,2011.85 1972.76,2028 1978.6,2011.85 1984.43,2002.5 1990.26,2011 1996.09,1994.85 2001.92,2028.85 2007.75,2028 2013.58,2028 2019.42,2035.65 2025.25,2019.5 2031.08,2011 2036.91,2002.5 2042.74,2028 2048.57,2002.5 2054.4,2011 2060.24,2028 2066.07,2011.85 2071.9,1985.5 2077.73,2011 2083.56,2002.5 2089.39,2002.5 2095.22,2011 2101.06,2003.35 2106.89,1994.85 2112.72,2014.4 2118.55,2035.65 2124.38,2011.85 2130.21,2019.5 2136.04,2028 2141.88,2002.5 2147.71,2011.85 2153.54,2011 2159.37,2002.5 2165.2,2019.5 2171.03,2011 2176.86,2019.5 2182.7,2019.5 2188.53,1994.85 2194.36,2028 2200.19,2002.5 2206.02,2002.5 2211.85,2042.45 2217.68,2215 2223.52,2002.5 2229.35,1994.85 2235.18,2028 2241.01,2035.65 2246.84,2011.85 2252.67,2002.5 2258.5,2011 2264.34,2028 2270.17,2045 2276,2028 2281.83,2011.85 2287.66,2028 2293.49,2011 2299.32,2019.5 2305.16,2002.5 2310.99,2002.5 2316.82,2002.5 2322.65,2035.65 2328.48,2019.5 2334.31,1985.5 2340.14,2011 2345.98,1985.5 2351.81,2011 2357.64,2011 2363.47,2011 2369.3,2019.5 2375.13,2003.35 2380.96,2019.5 2386.8,2011 2392.63,2002.5 2398.46,1985.5 2404.29,2011 2410.12,2011 2415.95,2002.5 2421.78,2019.5 2427.62,2019.5 2433.45,1985.5 2439.28,1993.15"/><polyline fill="none" stroke="#4DBEEE" stroke-width="1.8" stroke-linejoin="round" points="363.29,2028 369.12,2019.5 374.95,1993.15 380.78,1985.5 386.62,2011 392.45,2011 398.28,2027.15 404.11,1994.85 409.94,1977 415.77,2002.5 421.6,2011 427.44,1994.85 433.27,2011 439.1,2018.65 444.93,1985.5 450.76,2019.5 456.59,2002.5 462.42,2053.5 468.25,2011.85 474.09,2011 479.92,2011 485.75,2019.5 491.58,2011 497.41,2028 503.24,2019.5 509.08,1994.85 514.91,2002.5 520.74,2028 526.57,2045 532.4,1994.85 538.23,2019.5 544.06,2011.85 549.89,2011 555.73,1977 561.56,2053.5 567.39,2130 573.22,2002.5 579.05,2019.5 584.88,2011 590.72,2002.5 596.55,1994.85 602.38,2011 608.21,1994.85 614.04,1994 619.87,1972.75 625.7,2051.8 631.54,2019.5 637.37,1985.5 643.2,2019.5 649.03,2045.85 654.86,2045 660.69,2028 666.52,2011.85 672.36,2028 678.19,2036.5 684.02,2045 689.85,2011.85 695.68,2036.5 701.51,2068.8 707.34,2028 713.17,2003.35 719.01,2028 724.84,2003.35 730.67,2019.5 736.5,2019.5 742.33,1994.85 748.16,2028 754,2002.5 759.83,2011 765.66,1994.85 771.49,2035.65 777.32,2003.35 783.15,2028 788.98,2019.5 794.82,2011.85 800.65,2011 806.48,2028 812.31,2028 818.14,2011 823.97,2002.5 829.8,1994.85 835.63,2011 841.47,2028 847.3,2045.85 853.13,2045 858.96,2019.5 864.79,2035.65 870.62,2028 876.46,2011 882.29,2002.5 888.12,2019.5 893.95,2011.85 899.78,2036.5 905.61,2019.5 911.44,2019.5 917.28,1994.85 923.11,1994.85 928.94,2034.8 934.77,2002.5 940.6,2019.5 946.43,2011.85 952.26,2035.65 958.1,2011 963.93,2002.5 969.76,1994.85 975.59,2045 981.42,2002.5 987.25,1985.5 993.08,2019.5 998.92,2011 1004.75,2002.5 1010.58,2011.85 1016.41,2035.65 1022.24,2002.5 1028.07,2192.05 1033.9,2062.85 1039.74,2002.5 1045.57,2035.65 1051.4,1994.85 1057.23,2028 1063.06,2011 1068.89,1985.5 1074.72,2011 1080.56,2019.5 1086.39,2002.5 1092.22,2019.5 1098.05,2011 1103.88,2019.5 1109.71,2045 1115.54,2011 1121.38,2019.5 1127.21,2019.5 1133.04,2028.85 1138.87,2028 1144.7,2011.85 1150.53,2011 1156.36,2002.5 1162.2,2045 1168.03,2028 1173.86,2011.85 1179.69,2032.25 1185.52,2052.65 1191.35,2028 1197.18,1994.85 1203.02,2014.4 1208.85,2052.65 1214.68,2028.85 1220.51,2028 1226.34,2011.85 1232.17,2044.15 1238,2019.5 1243.84,2028 1249.67,2028 1255.5,2019.5 1261.33,2002.5 1267.16,2045 1272.99,2028.85 1278.82,2028 1284.66,2014.4 1290.49,2002.5 1296.32,2011 1302.15,2035.65 1307.98,2002.5 1313.81,2070.5 1319.64,2019.5 1325.47,2045 1331.31,2011.85 1337.14,2022.9 1342.97,2036.5 1348.8,2035.65 1354.63,2019.5 1360.46,2011 1366.3,2002.5 1372.13,2045 1377.96,2028.85 1383.79,2028 1389.62,2002.5 1395.45,1994.85 1401.28,2002.5 1407.12,2011 1412.95,2028 1418.78,2028.85 1424.61,2035.65 1430.44,2028 1436.27,2019.5 1442.1,2028.85 1447.94,2028 1453.77,2019.5 1459.6,2011 1465.43,2018.65 1471.26,2003.35 1477.09,2002.5 1482.92,2011 1488.76,2045 1494.59,2011.85 1500.42,2011 1506.25,2052.65 1512.08,2002.5 1517.91,2028 1523.74,2028 1529.58,2045 1535.41,2003.35 1541.24,2035.65 1547.07,2045 1552.9,2052.65 1558.73,2044.15 1564.56,2028.85"/><polyline fill="none" stroke="#4DBEEE" stroke-width="1.8" stroke-linejoin="round" points="1576.23,2011 1582.06,2061.15 1587.89,2028 1593.72,2011 1599.55,2019.5 1605.38,2028 1611.22,2028 1617.05,2019.5 1622.88,2070.5 1628.71,2002.5 1634.54,2052.65 1640.37,2028 1646.2,2011 1652.04,2028 1657.87,2028 1663.7,2028 1669.53,2019.5 1675.36,2019.5 1681.19,2011 1687.02,2207.35 1692.86,2011 1698.69,2035.65 1704.52,2052.65 1710.35,2011 1716.18,2028 1722.01,2052.65 1727.84,2045 1733.68,2094.3 1739.51,2242.2 1745.34,2011 1751.17,2052.65 1757,2045 1762.83,1994 1768.66,1985.5 1774.5,2028"/><polyline fill="none" stroke="#4DBEEE" stroke-width="1.8" stroke-linejoin="round" points="1786.16,2028.85 1791.99,2028 1797.82,2002.5 1803.65,2035.65 1809.48,1994.85 1815.32,2035.65 1821.15,2011.85 1826.98,2028 1832.81,2011.85 1838.64,2036.5 1844.47,2019.5 1850.3,2045 1856.14,2037.35 1861.97,2035.65 1867.8,2002.5 1873.63,2019.5 1879.46,2019.5 1885.29,2036.5 1891.12,2018.65 1896.96,2028 1902.79,1985.5 1908.62,2014.4 1914.45,2035.65 1920.28,2019.5 1926.11,2045 1931.94,2036.5 1937.78,2104.5 1943.61,2003.35 1949.44,2002.5 1955.27,1994.85 1961.1,2011 1966.93,2019.5 1972.76,1994.85 1978.6,2045 1984.43,2019.5 1990.26,2052.65 1996.09,1994.85 2001.92,2028 2007.75,2019.5 2013.58,2019.5 2019.42,2052.65 2025.25,1994.85 2031.08,2028 2036.91,2002.5 2042.74,2019.5 2048.57,1994.85 2054.4,2002.5 2060.24,2035.65 2066.07,2019.5 2071.9,2028.85 2077.73,2028 2083.56,2002.5 2089.39,2052.65 2095.22,2014.4 2101.06,2002.5 2106.89,2002.5 2112.72,2019.5 2118.55,1994.85 2124.38,2028.85 2130.21,2028 2136.04,2019.5 2141.88,2006.75 2147.71,1994.85 2153.54,2035.65 2159.37,2019.5 2165.2,2028.85 2171.03,2028 2176.86,2019.5 2182.7,2011 2188.53,2028 2194.36,2011.85 2200.19,2028 2206.02,2036.5 2211.85,2232.85 2217.68,2028 2223.52,2019.5 2229.35,2011 2235.18,2035.65 2241.01,2011 2246.84,2011 2252.67,2011 2258.5,2028 2264.34,2011 2270.17,1985.5 2276,2006.75 2281.83,2028 2287.66,2019.5 2293.49,2061.15 2299.32,2028 2305.16,2035.65 2310.99,2019.5 2316.82,2019.5 2322.65,2011 2328.48,2061.15 2334.31,2019.5 2340.14,2035.65 2345.98,2019.5 2351.81,2002.5 2357.64,2045 2363.47,2019.5 2369.3,2035.65 2375.13,1994.85 2380.96,2002.5 2386.8,2052.65 2392.63,2036.5 2398.46,1994.85 2404.29,2052.65 2410.12,2011.85 2415.95,2011 2421.78,1994.85 2427.62,2015.25 2433.45,1977 2439.28,2224.35"/></g><path shape-rendering="crispEdges" stroke="#0d0d0d" stroke-width="2" fill="none" d="M356 2402v-21M356 1976V1998M647.57 2402v-21M647.57 1976V1998M939.14 2402v-21M939.14 1976V1998M1230.71 2402v-21M1230.71 1976V1998M1522.29 2402v-21M1522.29 1976V1998M1813.86 2402v-21M1813.86 1976V1998M2105.43 2402v-21M2105.43 1976V1998M2397 2402v-21M2397 1976V1998M351 2317h21M2443 2317h-21M351 2232h21M2443 2232h-21M351 2147h21M2443 2147h-21M351 2062h21M2443 2062h-21"/><rect shape-rendering="crispEdges" x="351" y="1976" width="2092" height="426" fill="none" stroke="#0d0d0d" stroke-width="2"/><rect shape-rendering="crispEdges" x="350" y="2400.7" width="2094" height="2.6" fill="#1c1c1c"/><text x="356.75" y="2441.3" font-size="33.33" text-anchor="middle">0</text><text x="648.16" y="2441.3" font-size="33.33" text-anchor="middle">50</text><text x="939.58" y="2441.3" font-size="33.33" text-anchor="middle">100</text><text x="1230.99" y="2441.3" font-size="33.33" text-anchor="middle">150</text><text x="1522.41" y="2441.3" font-size="33.33" text-anchor="middle">200</text><text x="1813.82" y="2441.3" font-size="33.33" text-anchor="middle">250</text><text x="2105.24" y="2441.3" font-size="33.33" text-anchor="middle">300</text><text x="2396.65" y="2441.3" font-size="33.33" text-anchor="middle">350</text><text x="343" y="2414.9" font-size="33.33" text-anchor="end">0</text><text x="343" y="2329.74" font-size="33.33" text-anchor="end">10</text><text x="343" y="2244.58" font-size="33.33" text-anchor="end">20</text><text x="343" y="2159.42" font-size="33.33" text-anchor="end">30</text><text x="343" y="2074.26" font-size="33.33" text-anchor="end">40</text><text x="343" y="1989.1" font-size="33.33" text-anchor="end">50</text><text x="1398" y="1965.6" font-size="36.67" font-weight="bold" text-anchor="middle" fill="#000" style="fill:#000">8474: GPS Signal-to-Noise</text><text transform="translate(288.3 2190) rotate(-90)" font-size="36.67" text-anchor="middle">Signal-to-Noise</text></g><text x="1397" y="2484" font-size="36.67" text-anchor="middle">Cycle #</text><g><rect shape-rendering="crispEdges" x="385" y="1409" width="282" height="90" fill="#fff" stroke="#262626" stroke-width="2"/><rect shape-rendering="crispEdges" x="397" y="1420" width="126" height="29" fill="#0072BD"/><rect shape-rendering="crispEdges" x="397" y="1460" width="126" height="29" fill="#D95319"/><text x="531.5" y="1444.7" font-size="30" style="fill:#000">Descent</text><text x="531.5" y="1484.4" font-size="30" style="fill:#000">Ascent</text></g><text x="270.8" y="2658.5" font-size="33.33" fill="#000" style="fill:#000">WHOI Argo:17-Nov-2025</text></svg></body></html>
